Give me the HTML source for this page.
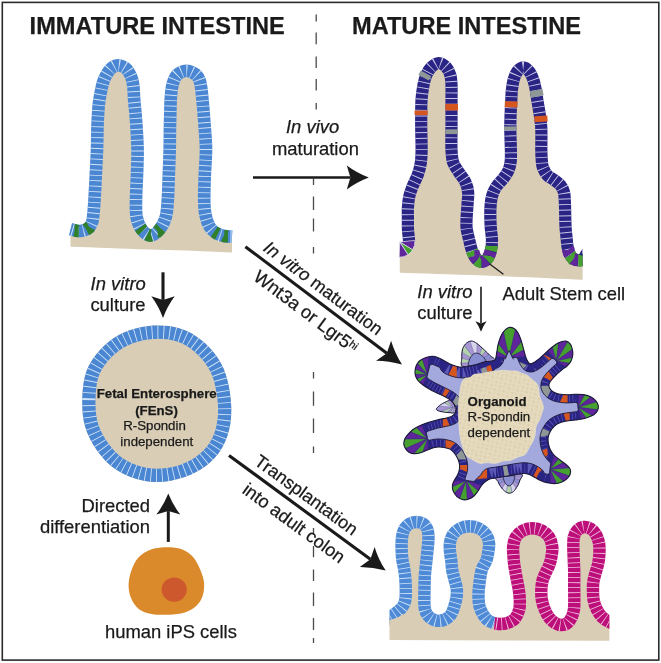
<!DOCTYPE html>
<html lang="en">
<head>
<meta charset="utf-8">
<title>Graphical abstract: immature and mature intestine</title>
<style>
html,body{margin:0;padding:0;background:#fff;}
body{width:661px;height:663px;overflow:hidden;}
svg{display:block;will-change:transform;}
text{font-family:"Liberation Sans",Arial,Helvetica,sans-serif;fill:#1a1a1a;stroke:#1a1a1a;stroke-width:0.25px;}
.t{font-size:23.6px;font-weight:bold;}
.l{font-size:18.4px;}
.s{font-size:13.25px;}
.i{font-style:italic;}
.b{font-weight:bold;}
</style>
</head>
<body>
<svg width="661" height="663" viewBox="0 0 661 663">
<rect x="0" y="0" width="661" height="663" fill="#ffffff"/>
<rect x="2.3" y="2.4" width="656.5" height="657.7" fill="none" stroke="#2b2b2b" stroke-width="1.6"/>
<path d="M316.2,14.5V21.4M316.2,32.6V44.3M316.2,56.5V67.9M316.2,79.1V90.5M316.2,103V109.6M313.5,178.5V185M313.5,196.6V209.9M313.5,218.4V231.6M313.5,247V253.5M313.5,372V378.6M313.5,391.4V405.7M313.5,418.5V433M313.5,446.5V453M313.5,528V535M313.5,546V557.3M313.5,569.4V581M313.5,592.5V606M313.5,618V630M313.5,638V643" stroke="#4a4a4a" stroke-width="1.3" fill="none"/>
<text class="t" x="29.6" y="34.2">IMMATURE INTESTINE</text>
<text class="t" x="352" y="34.2">MATURE INTESTINE</text>
<path d="M70.5,229.2C71.7,229.5 75.5,230.8 77.9,231C80.3,231.2 82.8,230.9 84.7,230.2C86.6,229.5 88.2,228.5 89.5,227C90.8,225.5 91.8,223.6 92.4,221.4C93.1,219.2 93.1,216.4 93.4,214C93.7,211.6 93.8,209.3 94,207C94.2,204.7 94.2,205.3 94.5,200C94.8,194.7 95.4,183.3 95.8,175C96.2,166.7 96.7,158.2 97,150C97.3,141.8 97.3,132.2 97.5,125.6C97.7,119 98,114.8 98.3,110.5C98.6,106.2 98.8,103.8 99.4,100C100,96.2 101,91.1 101.7,87.8C102.4,84.5 103,82.4 103.8,80.3C104.6,78.2 105.3,76.8 106.3,75C107.3,73.2 108.7,70.9 110,69.5C111.3,68.1 112.7,67.1 114,66.4C115.3,65.7 116.6,65.3 118,65.3C119.4,65.3 121,65.7 122.5,66.4C124,67.1 125.7,68.1 127,69.5C128.3,70.9 129.5,73.2 130.4,75C131.3,76.8 131.8,78.2 132.3,80.3C132.8,82.4 133.2,84.5 133.5,87.8C133.8,91.1 133.9,96.2 134.2,100C134.5,103.8 134.8,106.2 135.2,110.5C135.6,114.8 136,119 136.4,125.6C136.8,132.2 137.5,141.8 137.6,150C137.7,158.2 137.3,166.7 137,175C136.7,183.3 136.1,193 136,200C135.9,207 135.7,212.1 136.6,217C137.5,221.9 139.4,226.4 141.7,229.5C144,232.6 147.5,235.5 150.5,235.5C153.5,235.5 156.9,232.6 159.5,229.5C162.1,226.4 164.4,221.9 165.8,217C167.2,212.1 167.3,207 167.8,200C168.3,193 168.5,183.3 168.8,175C169.1,166.7 169.5,158.2 169.7,150C169.9,141.8 169.8,133.9 170,125.6C170.2,117.3 170.4,106.3 170.7,100C171,93.7 171.4,91.1 171.9,87.8C172.4,84.5 173.1,82.3 173.9,80.3C174.7,78.2 175.3,76.8 176.5,75.5C177.7,74.2 179.3,73 181,72.2C182.7,71.4 184.7,70.8 186.5,70.8C188.3,70.8 190.3,71.4 192,72.2C193.7,73 195.5,74.2 196.8,75.5C198.1,76.8 198.9,78.2 199.6,80.3C200.3,82.3 200.7,84.5 201.2,87.8C201.7,91.1 201.9,93.7 202.5,100C203.1,106.3 204,117.3 204.6,125.6C205.2,133.9 206,141.8 206,150C206,158.2 205.1,166.7 204.8,175C204.5,183.3 204.1,193.3 204.2,200C204.3,206.7 204.6,210.6 205.5,215C206.4,219.4 207.8,223.5 209.5,226.5C211.2,229.5 213.6,231.4 216,233C218.4,234.6 221.3,235.4 224,236C226.7,236.6 230.7,236.4 232,236.5L232,252.4 C200,251 170,250 150,249.5 C120,248.6 95,247.3 70.5,246.7Z" fill="#d9cdb6"/>
<path d="M70.5,229.2C71.7,229.5 75.5,230.8 77.9,231C80.3,231.2 82.8,230.9 84.7,230.2C86.6,229.5 88.2,228.5 89.5,227C90.8,225.5 91.8,223.6 92.4,221.4C93.1,219.2 93.1,216.4 93.4,214C93.7,211.6 93.8,209.3 94,207C94.2,204.7 94.2,205.3 94.5,200C94.8,194.7 95.4,183.3 95.8,175C96.2,166.7 96.7,158.2 97,150C97.3,141.8 97.3,132.2 97.5,125.6C97.7,119 98,114.8 98.3,110.5C98.6,106.2 98.8,103.8 99.4,100C100,96.2 101,91.1 101.7,87.8C102.4,84.5 103,82.4 103.8,80.3C104.6,78.2 105.3,76.8 106.3,75C107.3,73.2 108.7,70.9 110,69.5C111.3,68.1 112.7,67.1 114,66.4C115.3,65.7 116.6,65.3 118,65.3C119.4,65.3 121,65.7 122.5,66.4C124,67.1 125.7,68.1 127,69.5C128.3,70.9 129.5,73.2 130.4,75C131.3,76.8 131.8,78.2 132.3,80.3C132.8,82.4 133.2,84.5 133.5,87.8C133.8,91.1 133.9,96.2 134.2,100C134.5,103.8 134.8,106.2 135.2,110.5C135.6,114.8 136,119 136.4,125.6C136.8,132.2 137.5,141.8 137.6,150C137.7,158.2 137.3,166.7 137,175C136.7,183.3 136.1,193 136,200C135.9,207 135.7,212.1 136.6,217C137.5,221.9 139.4,226.4 141.7,229.5C144,232.6 147.5,235.5 150.5,235.5C153.5,235.5 156.9,232.6 159.5,229.5C162.1,226.4 164.4,221.9 165.8,217C167.2,212.1 167.3,207 167.8,200C168.3,193 168.5,183.3 168.8,175C169.1,166.7 169.5,158.2 169.7,150C169.9,141.8 169.8,133.9 170,125.6C170.2,117.3 170.4,106.3 170.7,100C171,93.7 171.4,91.1 171.9,87.8C172.4,84.5 173.1,82.3 173.9,80.3C174.7,78.2 175.3,76.8 176.5,75.5C177.7,74.2 179.3,73 181,72.2C182.7,71.4 184.7,70.8 186.5,70.8C188.3,70.8 190.3,71.4 192,72.2C193.7,73 195.5,74.2 196.8,75.5C198.1,76.8 198.9,78.2 199.6,80.3C200.3,82.3 200.7,84.5 201.2,87.8C201.7,91.1 201.9,93.7 202.5,100C203.1,106.3 204,117.3 204.6,125.6C205.2,133.9 206,141.8 206,150C206,158.2 205.1,166.7 204.8,175C204.5,183.3 204.1,193.3 204.2,200C204.3,206.7 204.6,210.6 205.5,215C206.4,219.4 207.8,223.5 209.5,226.5C211.2,229.5 213.6,231.4 216,233C218.4,234.6 221.3,235.4 224,236C226.7,236.6 230.7,236.4 232,236.5" fill="none" stroke="#4a86d2" stroke-width="12.6"/>
<path d="M70.5,229.2C71.7,229.5 75.5,230.8 77.9,231C80.3,231.2 82.8,230.9 84.7,230.2C86.6,229.5 88.2,228.5 89.5,227C90.8,225.5 91.8,223.6 92.4,221.4C93.1,219.2 93.1,216.4 93.4,214C93.7,211.6 93.8,209.3 94,207C94.2,204.7 94.2,205.3 94.5,200C94.8,194.7 95.4,183.3 95.8,175C96.2,166.7 96.7,158.2 97,150C97.3,141.8 97.3,132.2 97.5,125.6C97.7,119 98,114.8 98.3,110.5C98.6,106.2 98.8,103.8 99.4,100C100,96.2 101,91.1 101.7,87.8C102.4,84.5 103,82.4 103.8,80.3C104.6,78.2 105.3,76.8 106.3,75C107.3,73.2 108.7,70.9 110,69.5C111.3,68.1 112.7,67.1 114,66.4C115.3,65.7 116.6,65.3 118,65.3C119.4,65.3 121,65.7 122.5,66.4C124,67.1 125.7,68.1 127,69.5C128.3,70.9 129.5,73.2 130.4,75C131.3,76.8 131.8,78.2 132.3,80.3C132.8,82.4 133.2,84.5 133.5,87.8C133.8,91.1 133.9,96.2 134.2,100C134.5,103.8 134.8,106.2 135.2,110.5C135.6,114.8 136,119 136.4,125.6C136.8,132.2 137.5,141.8 137.6,150C137.7,158.2 137.3,166.7 137,175C136.7,183.3 136.1,193 136,200C135.9,207 135.7,212.1 136.6,217C137.5,221.9 139.4,226.4 141.7,229.5C144,232.6 147.5,235.5 150.5,235.5C153.5,235.5 156.9,232.6 159.5,229.5C162.1,226.4 164.4,221.9 165.8,217C167.2,212.1 167.3,207 167.8,200C168.3,193 168.5,183.3 168.8,175C169.1,166.7 169.5,158.2 169.7,150C169.9,141.8 169.8,133.9 170,125.6C170.2,117.3 170.4,106.3 170.7,100C171,93.7 171.4,91.1 171.9,87.8C172.4,84.5 173.1,82.3 173.9,80.3C174.7,78.2 175.3,76.8 176.5,75.5C177.7,74.2 179.3,73 181,72.2C182.7,71.4 184.7,70.8 186.5,70.8C188.3,70.8 190.3,71.4 192,72.2C193.7,73 195.5,74.2 196.8,75.5C198.1,76.8 198.9,78.2 199.6,80.3C200.3,82.3 200.7,84.5 201.2,87.8C201.7,91.1 201.9,93.7 202.5,100C203.1,106.3 204,117.3 204.6,125.6C205.2,133.9 206,141.8 206,150C206,158.2 205.1,166.7 204.8,175C204.5,183.3 204.1,193.3 204.2,200C204.3,206.7 204.6,210.6 205.5,215C206.4,219.4 207.8,223.5 209.5,226.5C211.2,229.5 213.6,231.4 216,233C218.4,234.6 221.3,235.4 224,236C226.7,236.6 230.7,236.4 232,236.5" fill="none" stroke="#cfe4f9" stroke-width="12.6" stroke-dasharray="0.9 4.5" stroke-dashoffset="-2"/>
<path d="M74.6,230.4L74.8,230.4L75.2,230.5L75.6,230.6L75.9,230.7L76.3,230.8L76.6,230.8L77,230.9L77.3,230.9L77.6,231L77.9,231L78.2,231L78.5,231L78.7,231" fill="none" stroke="#2f8029" stroke-width="12.4"/>
<path d="M86.3,229.5L86.3,229.5L86.5,229.4L86.7,229.3L86.9,229.2L87.1,229L87.3,228.9L87.5,228.8L87.7,228.6L87.9,228.5L88.1,228.3L88.3,228.2L88.5,228L88.7,227.9L88.8,227.7L89,227.5L89.2,227.4L89.3,227.2L89.5,227L89.5,227" fill="none" stroke="#2f8029" stroke-width="12.4"/>
<path d="M140.3,227.4L140.3,227.4L140.6,227.8L140.9,228.3L141.1,228.7L141.4,229.1L141.7,229.5L142,229.9L142.3,230.3L142.6,230.6L142.8,230.8" fill="none" stroke="#2f8029" stroke-width="12.4"/>
<path d="M147.2,234.5L147.4,234.6L147.8,234.8L148.2,235L148.6,235.1L149,235.3L149.4,235.4L149.7,235.4L150.1,235.5L150.5,235.5L150.9,235.5L151.2,235.4" fill="none" stroke="#2f8029" stroke-width="12.4"/>
<path d="M157.7,231.4L157.8,231.4L158.2,231L158.5,230.6L158.8,230.3L159.2,229.9L159.5,229.5L159.8,229.1L160.1,228.7L160.4,228.3L160.5,228.2" fill="none" stroke="#2f8029" stroke-width="12.4"/>
<path d="M214.2,231.8L214.5,232L214.8,232.2L215.1,232.4L215.4,232.6L215.7,232.8L216,233L216.3,233.2L216.6,233.4L216.9,233.6L217.2,233.7L217.6,233.9L217.8,234" fill="none" stroke="#2f8029" stroke-width="12.4"/>
<path d="M223.8,235.9L224,236L224.3,236.1L224.7,236.1L225.1,236.2L225.4,236.2L225.8,236.3L226.2,236.3L226.6,236.3L227,236.4L227.4,236.4L227.7,236.4L227.9,236.4" fill="none" stroke="#2f8029" stroke-width="12.4"/>
<path d="M253,177.5L350.4,177.5" stroke="#1a1a1a" stroke-width="2.6" fill="none"/>
<path d="M368.8,177.5Q356.7,182.1 346.8,189.5L350.4,177.5L346.8,165.5Q356.7,172.9 368.8,177.5Z" fill="#1a1a1a"/>
<path d="M163,272.3L163,299.9" stroke="#1a1a1a" stroke-width="3.1" fill="none"/>
<path d="M163,318Q158.6,306.1 151.3,296.3L163,299.9L174.7,296.3Q167.4,306.1 163,318Z" fill="#1a1a1a"/>
<path d="M168.3,541.9L168.3,511.1" stroke="#1a1a1a" stroke-width="3" fill="none"/>
<path d="M168.3,493.6Q172.9,505.2 180.3,514.6L168.3,511.1L156.3,514.6Q163.7,505.2 168.3,493.6Z" fill="#1a1a1a"/>
<path d="M245.4,246.7L386.8,353.2" stroke="#1a1a1a" stroke-width="3.1" fill="none"/>
<path d="M402,364.6Q389,360.8 376.1,360.8L386.8,353.2L391.1,340.8Q394.8,353.2 402,364.6Z" fill="#1a1a1a"/>
<path d="M229,455.4L370.4,559.3" stroke="#1a1a1a" stroke-width="3.1" fill="none"/>
<path d="M385.7,570.6Q372.7,566.9 359.8,567L370.4,559.3L374.6,546.9Q378.3,559.3 385.7,570.6Z" fill="#1a1a1a"/>
<path d="M481,286.7L481,323.4" stroke="#1a1a1a" stroke-width="1.6" fill="none"/>
<path d="M481,331.7Q478.9,325.9 475.4,321.2L481,323.4L486.6,321.2Q483.1,325.9 481,331.7Z" fill="#1a1a1a"/>
<text class="l i" x="286" y="133">In vivo</text>
<text class="l" x="272" y="154.5">maturation</text>
<text class="l i" x="145.8" y="290" text-anchor="end">In vitro</text>
<text class="l" x="145.6" y="311.3" text-anchor="end">culture</text>
<text class="l" x="150" y="511.6" text-anchor="end">Directed</text>
<text class="l" x="150" y="533.3" text-anchor="end">differentiation</text>
<text class="l" x="105" y="638.3">human iPS cells</text>
<text class="l i" x="417.3" y="298.3">In vitro</text>
<text class="l" x="417.3" y="319">culture</text>
<text class="l" x="502.5" y="299.6">Adult Stem cell</text>
<g transform="translate(245.4,246.7) rotate(36.9)"><text class="l" x="15.6" y="-7.5" style="font-size:17.9px"><tspan class="i">In vitro</tspan> maturation</text><text class="l" x="25" y="21.8">Wnt3a or Lgr5<tspan font-size="10.5" dy="-4.6">hi</tspan></text></g>
<g transform="translate(229,455.2) rotate(36.15)"><text class="l" x="24.6" y="-7.5" style="font-size:17.9px">Transplantation</text><text class="l" x="31.6" y="22.7" style="font-size:18.1px">into adult colon</text></g>
<clipPath id="fc"><path d="M82.3,399C82.5,389.9 83.3,379.9 86.3,371.7C89.2,363.5 94.1,356.4 100,350C105.9,343.6 113.5,337.6 121.7,333.6C129.9,329.6 139.4,326.9 149,326C158.6,325.1 169.9,325.6 179,328.2C188.1,330.8 196.2,335.4 203.4,341.8C210.7,348.2 217.9,356.8 222.5,366.3C227.1,375.8 229.6,388.6 230.7,399C231.8,409.4 231.4,419.9 229.3,429C227.2,438.1 223.6,446.4 218.4,453.4C213.2,460.4 205.9,466.6 198,471.1C190.1,475.7 179.9,479.1 170.8,480.7C161.7,482.3 152.6,482.5 143.5,480.7C134.4,478.9 124,474.8 116.3,469.8C108.6,464.8 102.4,458 97.2,450.7C92,443.4 87.5,434.8 85,426.2C82.5,417.6 82.1,408.1 82.3,399Z"/></clipPath>
<path d="M82.3,399C82.5,389.9 83.3,379.9 86.3,371.7C89.2,363.5 94.1,356.4 100,350C105.9,343.6 113.5,337.6 121.7,333.6C129.9,329.6 139.4,326.9 149,326C158.6,325.1 169.9,325.6 179,328.2C188.1,330.8 196.2,335.4 203.4,341.8C210.7,348.2 217.9,356.8 222.5,366.3C227.1,375.8 229.6,388.6 230.7,399C231.8,409.4 231.4,419.9 229.3,429C227.2,438.1 223.6,446.4 218.4,453.4C213.2,460.4 205.9,466.6 198,471.1C190.1,475.7 179.9,479.1 170.8,480.7C161.7,482.3 152.6,482.5 143.5,480.7C134.4,478.9 124,474.8 116.3,469.8C108.6,464.8 102.4,458 97.2,450.7C92,443.4 87.5,434.8 85,426.2C82.5,417.6 82.1,408.1 82.3,399Z" fill="#d9cdb6"/>
<g clip-path="url(#fc)"><path d="M82.3,399C82.5,389.9 83.3,379.9 86.3,371.7C89.2,363.5 94.1,356.4 100,350C105.9,343.6 113.5,337.6 121.7,333.6C129.9,329.6 139.4,326.9 149,326C158.6,325.1 169.9,325.6 179,328.2C188.1,330.8 196.2,335.4 203.4,341.8C210.7,348.2 217.9,356.8 222.5,366.3C227.1,375.8 229.6,388.6 230.7,399C231.8,409.4 231.4,419.9 229.3,429C227.2,438.1 223.6,446.4 218.4,453.4C213.2,460.4 205.9,466.6 198,471.1C190.1,475.7 179.9,479.1 170.8,480.7C161.7,482.3 152.6,482.5 143.5,480.7C134.4,478.9 124,474.8 116.3,469.8C108.6,464.8 102.4,458 97.2,450.7C92,443.4 87.5,434.8 85,426.2C82.5,417.6 82.1,408.1 82.3,399Z" fill="none" stroke="#4a86d2" stroke-width="26.4"/>
<path d="M82.3,399C82.5,389.9 83.3,379.9 86.3,371.7C89.2,363.5 94.1,356.4 100,350C105.9,343.6 113.5,337.6 121.7,333.6C129.9,329.6 139.4,326.9 149,326C158.6,325.1 169.9,325.6 179,328.2C188.1,330.8 196.2,335.4 203.4,341.8C210.7,348.2 217.9,356.8 222.5,366.3C227.1,375.8 229.6,388.6 230.7,399C231.8,409.4 231.4,419.9 229.3,429C227.2,438.1 223.6,446.4 218.4,453.4C213.2,460.4 205.9,466.6 198,471.1C190.1,475.7 179.9,479.1 170.8,480.7C161.7,482.3 152.6,482.5 143.5,480.7C134.4,478.9 124,474.8 116.3,469.8C108.6,464.8 102.4,458 97.2,450.7C92,443.4 87.5,434.8 85,426.2C82.5,417.6 82.1,408.1 82.3,399Z" fill="none" stroke="#cfe4f9" stroke-width="26.4" stroke-dasharray="0.9 5.3"/></g>
<text class="s b" x="156.7" y="398.4" text-anchor="middle">Fetal Enterosphere</text>
<text class="s b" x="156.5" y="414.6" text-anchor="middle">(FEnS)</text>
<text class="s" x="154.5" y="430" text-anchor="middle">R-Spondin</text>
<text class="s" x="156.8" y="445.8" text-anchor="middle">independent</text>
<path d="M167.4,547.2C172.4,547.2 177.5,547.6 181.8,549.3C186.1,551 190.2,553.7 193.3,557.2C196.4,560.7 198.7,565.9 200.5,570.2C202.3,574.5 203.8,578.8 204.1,583.1C204.4,587.4 203.9,592.2 202.6,596C201.3,599.8 199.2,603.3 196.2,606.1C193.2,608.9 189.2,611.2 184.7,612.6C180.1,614 174.4,614.5 168.9,614.7C163.4,614.9 156.6,615 151.6,614C146.6,613 142.2,611.8 138.7,609C135.2,606.2 132.5,601.6 130.8,597.5C129.1,593.4 128.5,589.1 128.6,584.6C128.7,580.1 129.8,574.8 131.5,570.2C133.2,565.6 135.3,560.7 138.7,557.2C142,553.7 146.8,551 151.6,549.3C156.4,547.6 162.4,547.2 167.4,547.2Z" fill="#da8a2b"/>
<ellipse cx="174.2" cy="589.6" rx="12.6" ry="12.1" fill="#ce582e"/>
<clipPath id="mc"><rect x="390" y="40" width="192.6" height="250"/></clipPath>
<g clip-path="url(#mc)">
<path d="M399.8,250 L408.6,245 L408.6,245C408.7,244.2 409.1,242.5 409,240C408.9,237.5 408.2,233.3 408,230C407.8,226.7 407.9,223.7 407.9,220C407.9,216.3 407.7,211.8 407.9,207.9C408.1,204 408.5,199.9 409.3,196.3C410.1,192.7 411.3,189.7 412.7,186.1C414.1,182.5 416.5,178.5 417.9,174.5C419.3,170.5 420.3,166.4 420.9,162.3C421.5,158.2 421.6,156.2 421.6,150C421.7,143.8 421.2,133.3 421.2,125C421.2,116.7 421.1,106.7 421.5,100C421.9,93.3 422.7,89.2 423.5,85C424.3,80.8 425.1,77.9 426.3,75C427.6,72.1 428.9,69.5 431,67.5C433.1,65.5 436.1,63 438.6,63C441.2,63 444.4,65.3 446.3,67.3C448.2,69.3 449.4,72 450.3,75C451.2,78 451.3,80.8 451.5,85C451.7,89.2 451.5,93.3 451.5,100C451.5,106.7 451.5,116.7 451.5,125C451.5,133.3 451.2,143.8 451.5,150C451.8,156.2 451.9,158.6 453.1,162.3C454.4,166.1 456.9,169.2 459,172.5C461.1,175.8 463.9,178.7 465.4,182C466.9,185.3 467.8,188.4 468.1,192.2C468.5,195.9 467.8,200.2 467.5,204.5C467.2,208.8 466.8,214.1 466.6,218C466.5,221.9 466.2,224.3 466.6,228C467,231.7 468.2,236 469.2,240C470.2,244 471.2,248.8 472.5,252C473.8,255.2 475.4,257.9 477,259.5C478.6,261.1 480.2,261.9 482,261.7C483.8,261.5 486,260.4 487.5,258.5C489,256.6 490.2,253.1 491,250C491.8,246.9 492,243.7 492,240C492,236.3 491.1,232.2 490.8,228C490.5,223.8 490.3,218.8 490.3,215C490.3,211.2 490.3,208.6 490.6,205.4C490.9,202.2 491.2,199 492.1,195.9C493,192.8 494.2,189.9 496.1,187C498,184.1 501.2,181.3 503.3,178.5C505.4,175.7 507.4,172.9 508.6,170.1C509.8,167.3 510.3,164.9 510.7,161.6C511.1,158.2 511,156.1 510.9,150C510.8,143.9 510.2,133.3 510.3,125C510.4,116.7 511,105.8 511.3,100C511.6,94.2 511.5,93.3 511.9,90C512.3,86.7 512.7,83.1 513.6,80C514.5,76.9 515.6,73.6 517.2,71.5C518.8,69.4 521.2,67.3 523.2,67.3C525.2,67.3 527.6,69.4 529.3,71.5C531,73.6 532.3,76.9 533.4,80C534.5,83.1 535.1,86.7 535.8,90C536.4,93.3 536.4,94.2 537.3,100C538.2,105.8 540.4,116.7 541.1,125C541.8,133.3 541.2,144.1 541.3,150C541.4,155.9 541.5,157.7 541.8,160.6C542.1,163.5 542,164.9 542.9,167.4C543.8,169.9 545.5,173.2 547.4,175.3C549.3,177.4 552.1,178.4 554.3,180.1C556.5,181.8 559,183.4 560.6,185.4C562.2,187.4 563.3,189.3 564,192.2C564.7,195.1 564.7,199 564.9,202.8C565.1,206.6 565.1,210.8 565.2,215C565.3,219.2 565.3,223.8 565.6,228C565.9,232.2 566.5,236.8 566.8,240C567.1,243.2 567.1,244.7 567.6,247C568.1,249.3 568.6,252 569.6,254C570.6,256 572,257.8 573.5,258.8C575,259.9 576.8,260.1 578.5,260.3C580.2,260.5 583.1,259.9 584,259.8 L590,262 L590,280 L582.6,279.8 C560,278.6 520,276.8 485,275.6 C450,274.4 420,273.4 399.8,272.8Z" fill="#d9cdb6"/>
<path d="M408.6,245C408.7,244.2 409.1,242.5 409,240C408.9,237.5 408.2,233.3 408,230C407.8,226.7 407.9,223.7 407.9,220C407.9,216.3 407.7,211.8 407.9,207.9C408.1,204 408.5,199.9 409.3,196.3C410.1,192.7 411.3,189.7 412.7,186.1C414.1,182.5 416.5,178.5 417.9,174.5C419.3,170.5 420.3,166.4 420.9,162.3C421.5,158.2 421.6,156.2 421.6,150C421.7,143.8 421.2,133.3 421.2,125C421.2,116.7 421.1,106.7 421.5,100C421.9,93.3 422.7,89.2 423.5,85C424.3,80.8 425.1,77.9 426.3,75C427.6,72.1 428.9,69.5 431,67.5C433.1,65.5 436.1,63 438.6,63C441.2,63 444.4,65.3 446.3,67.3C448.2,69.3 449.4,72 450.3,75C451.2,78 451.3,80.8 451.5,85C451.7,89.2 451.5,93.3 451.5,100C451.5,106.7 451.5,116.7 451.5,125C451.5,133.3 451.2,143.8 451.5,150C451.8,156.2 451.9,158.6 453.1,162.3C454.4,166.1 456.9,169.2 459,172.5C461.1,175.8 463.9,178.7 465.4,182C466.9,185.3 467.8,188.4 468.1,192.2C468.5,195.9 467.8,200.2 467.5,204.5C467.2,208.8 466.8,214.1 466.6,218C466.5,221.9 466.2,224.3 466.6,228C467,231.7 468.2,236 469.2,240C470.2,244 471.2,248.8 472.5,252C473.8,255.2 475.4,257.9 477,259.5C478.6,261.1 480.2,261.9 482,261.7C483.8,261.5 486,260.4 487.5,258.5C489,256.6 490.2,253.1 491,250C491.8,246.9 492,243.7 492,240C492,236.3 491.1,232.2 490.8,228C490.5,223.8 490.3,218.8 490.3,215C490.3,211.2 490.3,208.6 490.6,205.4C490.9,202.2 491.2,199 492.1,195.9C493,192.8 494.2,189.9 496.1,187C498,184.1 501.2,181.3 503.3,178.5C505.4,175.7 507.4,172.9 508.6,170.1C509.8,167.3 510.3,164.9 510.7,161.6C511.1,158.2 511,156.1 510.9,150C510.8,143.9 510.2,133.3 510.3,125C510.4,116.7 511,105.8 511.3,100C511.6,94.2 511.5,93.3 511.9,90C512.3,86.7 512.7,83.1 513.6,80C514.5,76.9 515.6,73.6 517.2,71.5C518.8,69.4 521.2,67.3 523.2,67.3C525.2,67.3 527.6,69.4 529.3,71.5C531,73.6 532.3,76.9 533.4,80C534.5,83.1 535.1,86.7 535.8,90C536.4,93.3 536.4,94.2 537.3,100C538.2,105.8 540.4,116.7 541.1,125C541.8,133.3 541.2,144.1 541.3,150C541.4,155.9 541.5,157.7 541.8,160.6C542.1,163.5 542,164.9 542.9,167.4C543.8,169.9 545.5,173.2 547.4,175.3C549.3,177.4 552.1,178.4 554.3,180.1C556.5,181.8 559,183.4 560.6,185.4C562.2,187.4 563.3,189.3 564,192.2C564.7,195.1 564.7,199 564.9,202.8C565.1,206.6 565.1,210.8 565.2,215C565.3,219.2 565.3,223.8 565.6,228C565.9,232.2 566.5,236.8 566.8,240C567.1,243.2 567.1,244.7 567.6,247C568.1,249.3 568.6,252 569.6,254C570.6,256 572,257.8 573.5,258.8C575,259.9 576.8,260.1 578.5,260.3C580.2,260.5 583.1,259.9 584,259.8" fill="none" stroke="#2a2584" stroke-width="12.2"/>
<path d="M408.6,245C408.7,244.2 409.1,242.5 409,240C408.9,237.5 408.2,233.3 408,230C407.8,226.7 407.9,223.7 407.9,220C407.9,216.3 407.7,211.8 407.9,207.9C408.1,204 408.5,199.9 409.3,196.3C410.1,192.7 411.3,189.7 412.7,186.1C414.1,182.5 416.5,178.5 417.9,174.5C419.3,170.5 420.3,166.4 420.9,162.3C421.5,158.2 421.6,156.2 421.6,150C421.7,143.8 421.2,133.3 421.2,125C421.2,116.7 421.1,106.7 421.5,100C421.9,93.3 422.7,89.2 423.5,85C424.3,80.8 425.1,77.9 426.3,75C427.6,72.1 428.9,69.5 431,67.5C433.1,65.5 436.1,63 438.6,63C441.2,63 444.4,65.3 446.3,67.3C448.2,69.3 449.4,72 450.3,75C451.2,78 451.3,80.8 451.5,85C451.7,89.2 451.5,93.3 451.5,100C451.5,106.7 451.5,116.7 451.5,125C451.5,133.3 451.2,143.8 451.5,150C451.8,156.2 451.9,158.6 453.1,162.3C454.4,166.1 456.9,169.2 459,172.5C461.1,175.8 463.9,178.7 465.4,182C466.9,185.3 467.8,188.4 468.1,192.2C468.5,195.9 467.8,200.2 467.5,204.5C467.2,208.8 466.8,214.1 466.6,218C466.5,221.9 466.2,224.3 466.6,228C467,231.7 468.2,236 469.2,240C470.2,244 471.2,248.8 472.5,252C473.8,255.2 475.4,257.9 477,259.5C478.6,261.1 480.2,261.9 482,261.7C483.8,261.5 486,260.4 487.5,258.5C489,256.6 490.2,253.1 491,250C491.8,246.9 492,243.7 492,240C492,236.3 491.1,232.2 490.8,228C490.5,223.8 490.3,218.8 490.3,215C490.3,211.2 490.3,208.6 490.6,205.4C490.9,202.2 491.2,199 492.1,195.9C493,192.8 494.2,189.9 496.1,187C498,184.1 501.2,181.3 503.3,178.5C505.4,175.7 507.4,172.9 508.6,170.1C509.8,167.3 510.3,164.9 510.7,161.6C511.1,158.2 511,156.1 510.9,150C510.8,143.9 510.2,133.3 510.3,125C510.4,116.7 511,105.8 511.3,100C511.6,94.2 511.5,93.3 511.9,90C512.3,86.7 512.7,83.1 513.6,80C514.5,76.9 515.6,73.6 517.2,71.5C518.8,69.4 521.2,67.3 523.2,67.3C525.2,67.3 527.6,69.4 529.3,71.5C531,73.6 532.3,76.9 533.4,80C534.5,83.1 535.1,86.7 535.8,90C536.4,93.3 536.4,94.2 537.3,100C538.2,105.8 540.4,116.7 541.1,125C541.8,133.3 541.2,144.1 541.3,150C541.4,155.9 541.5,157.7 541.8,160.6C542.1,163.5 542,164.9 542.9,167.4C543.8,169.9 545.5,173.2 547.4,175.3C549.3,177.4 552.1,178.4 554.3,180.1C556.5,181.8 559,183.4 560.6,185.4C562.2,187.4 563.3,189.3 564,192.2C564.7,195.1 564.7,199 564.9,202.8C565.1,206.6 565.1,210.8 565.2,215C565.3,219.2 565.3,223.8 565.6,228C565.9,232.2 566.5,236.8 566.8,240C567.1,243.2 567.1,244.7 567.6,247C568.1,249.3 568.6,252 569.6,254C570.6,256 572,257.8 573.5,258.8C575,259.9 576.8,260.1 578.5,260.3C580.2,260.5 583.1,259.9 584,259.8" fill="none" stroke="#c9c8ea" stroke-width="12.2" stroke-dasharray="0.9 4.7" stroke-dashoffset="-2"/>
<path d="M568.2,249.9L568.3,250L568.3,250.3L568.4,250.6L568.5,250.9L568.6,251.2L568.7,251.5L568.7,251.8L568.8,252.1L568.9,252.4L569,252.7L569.1,253L569.3,253.2L569.4,253.5L569.5,253.8L569.6,254L569.7,254.2L569.9,254.5L569.9,254.5" fill="none" stroke="#5f259b" stroke-width="12.2"/>
<path d="M570.2,255.1L570.3,255.2L570.4,255.4L570.6,255.7L570.7,255.9L570.9,256.1L571,256.3L571.2,256.5L571.4,256.7L571.5,256.9L571.7,257.1L571.9,257.3L572,257.5L572.2,257.7L572.4,257.9L572.6,258.1L572.8,258.2L572.9,258.4L573,258.4" fill="none" stroke="#45a02f" stroke-width="12.2"/>
<path d="M573.5,258.8L573.5,258.8L573.7,258.9L573.9,259L574.1,259.2L574.3,259.3L574.5,259.4L574.7,259.5L574.9,259.5L575.1,259.6L575.3,259.7L575.5,259.8L575.7,259.8L575.9,259.9L576.1,259.9L576.3,260L576.5,260L576.8,260.1L577,260.1L577.2,260.1L577.4,260.2L577.6,260.2" fill="none" stroke="#5f259b" stroke-width="12.2"/>
<path d="M578.2,260.3L578.3,260.3L578.5,260.3L578.7,260.3L579,260.3L579.2,260.3L579.5,260.3L579.7,260.3L580,260.3L580.2,260.3L580.5,260.3L580.8,260.2L581,260.2L581.3,260.2L581.6,260.1L581.8,260.1L582.1,260.1L582.3,260L582.6,260L582.8,260L583,259.9L583.2,259.9L583.4,259.9L583.5,259.9" fill="none" stroke="#45a02f" stroke-width="12.2"/>
<path d="M579,254.5L582.6,248.5L582.6,256Z" fill="#2a2584"/>
</g>
<path d="M414.6,112.8L427.6,112.8" stroke="#d5561f" stroke-width="4.6" fill="none"/>
<path d="M445.4,107.2L458,107.2" stroke="#d5561f" stroke-width="6.6" fill="none"/>
<path d="M445.4,131.7L458,131.7" stroke="#8f9897" stroke-width="4.8" fill="none"/>
<path d="M419.6,72.8L430,78.4" stroke="#8f9897" stroke-width="5" fill="none"/>
<path d="M504.8,104.2L517.5,104.6" stroke="#d5561f" stroke-width="6" fill="none"/>
<path d="M530.5,94.5L543,92" stroke="#8f9897" stroke-width="6.6" fill="none"/>
<path d="M534.5,119.2L547.5,118.4" stroke="#d5561f" stroke-width="6" fill="none"/>
<path d="M504,128.4L516.6,128.4" stroke="#8f9897" stroke-width="4" fill="none"/>
<path d="M399.7,242L414.8,240.4A15.2,15.2 0 0 1 412.7,249.8Z" fill="#5f259b" stroke="#e8e6f4" stroke-width="0.7"/>
<path d="M399.7,242L412.7,249.8A15.2,15.2 0 0 1 408,254.7Z" fill="#45a02f" stroke="#e8e6f4" stroke-width="0.7"/>
<path d="M399.7,242L408,254.7A15.2,15.2 0 0 1 399.2,257.2Z" fill="#5f259b" stroke="#e8e6f4" stroke-width="0.7"/>
<path d="M472.1,251L472.2,251.2L472.3,251.6L472.5,252L472.7,252.4L472.8,252.8L473,253.2L473.2,253.6L473.4,253.9L473.5,254.3L473.7,254.7L473.9,255L474.1,255.4L474.1,255.5" fill="none" stroke="#45a02f" stroke-width="12.2"/>
<path d="M474.4,256L474.5,256L474.6,256.4L474.8,256.7L475,257L475.2,257.3L475.4,257.6L475.6,257.8L475.8,258.1L476,258.4L476.2,258.6L476.4,258.8L476.6,259.1L476.8,259.3L477,259.5L477,259.5" fill="none" stroke="#5f259b" stroke-width="12.2"/>
<path d="M477.5,260L477.6,260.1L477.8,260.2L478,260.4L478.2,260.5L478.4,260.7L478.6,260.8L478.8,261L479,261.1L479.2,261.2L479.4,261.3L479.6,261.4L479.9,261.4L480.1,261.5L480.3,261.6L480.5,261.6L480.7,261.7L480.9,261.7L481.1,261.7L481.3,261.7L481.4,261.7" fill="none" stroke="#45a02f" stroke-width="12.2"/>
<path d="M482,261.7L482.2,261.7L482.4,261.6L482.7,261.6L482.9,261.5L483.1,261.5L483.4,261.4L483.6,261.3L483.9,261.2L484.1,261.1L484.4,261L484.6,260.9L484.8,260.8L485.1,260.6L485.3,260.5L485.6,260.3L485.8,260.2L486,260" fill="none" stroke="#5f259b" stroke-width="12.2"/>
<path d="M486.5,259.6L486.5,259.6L486.7,259.4L486.9,259.2L487.1,259L487.3,258.7L487.5,258.5L487.7,258.2L487.9,258L488.1,257.7L488.2,257.4L488.4,257.1L488.6,256.8L488.7,256.5L488.9,256.1L488.9,256" fill="none" stroke="#45a02f" stroke-width="12.2"/>
<path d="M489.2,255.5L489.2,255.4L489.4,255L489.5,254.7L489.7,254.3L489.8,253.9L490,253.5L490.1,253.1L490.2,252.7L490.3,252.4L490.5,252L490.6,251.6L490.7,251.3" fill="none" stroke="#5f259b" stroke-width="12.2"/>
<path d="M490.8,250.8L490.9,250.4L491,250L491.1,249.6L491.2,249.2L491.3,248.8L491.3,248.4L491.4,248L491.5,247.7L491.5,247.3L491.6,246.9L491.7,246.4L491.7,246L491.7,245.9" fill="none" stroke="#45a02f" stroke-width="12.2"/>
<path d="M489.7,264L503.4,274.2" stroke="#1a1a1a" stroke-width="1.2" fill="none"/>
<clipPath id="cc"><rect x="389.5" y="500" width="219.9" height="150"/></clipPath>
<g clip-path="url(#cc)">
<path d="M384,620.8C385.1,620.1 388.7,617.8 390.6,616.5C392.5,615.2 394.1,614.2 395.6,613.2C397.1,612.2 398.3,611.2 399.4,610.2C400.5,609.2 401.4,608.3 402.3,607.1C403.2,605.9 403.9,604.5 404.5,603C405.1,601.5 405.4,599.8 405.6,598C405.8,596.2 405.8,594.2 405.8,592C405.8,589.8 405.8,587.8 405.7,585C405.6,582.2 405.3,578 405,575C404.7,572 404.2,569.5 403.8,567C403.4,564.5 402.8,562.7 402.4,560C402,557.3 401.8,553.8 401.7,551C401.6,548.2 401.5,546 401.6,543.3C401.7,540.6 401.9,537.5 402.4,535C402.9,532.5 403.5,530.5 404.6,528.6C405.8,526.7 407.4,524.9 409.3,523.8C411.2,522.7 414,522 416.3,522C418.6,522 421.5,522.7 423.3,523.8C425.1,524.9 426.2,526.7 427.1,528.6C428,530.5 428.2,532.5 428.4,535C428.6,537.5 428.4,540.6 428.2,543.3C428,546 427.7,548.2 427.4,551C427.1,553.8 426.9,556 426.5,560C426.1,564 425.2,570.3 424.9,575C424.6,579.7 424.6,582.8 424.5,588C424.4,593.2 424.2,601.9 424.5,606C424.8,610.1 425,610.5 426,612.5C427,614.5 428.6,616.6 430.5,618C432.4,619.4 435.1,620.5 437.5,620.8C439.9,621 442.8,620.5 445,619.5C447.2,618.5 449.4,616.8 451,614.5C452.6,612.2 453.5,608.9 454.4,606C455.3,603.1 456.2,600 456.6,597C457,594 457.1,591 456.7,588C456.3,585 455.1,582 454.4,579C453.6,576 452.7,573.2 452.2,570C451.7,566.8 451.6,563.1 451.2,560C450.8,556.9 450.2,554.4 450,551.6C449.8,548.8 449.5,546.1 449.9,543.3C450.3,540.5 451,537.5 452.6,535C454.2,532.5 456.8,530.1 459.6,528.6C462.4,527.1 466.2,526.2 469.5,526.2C472.8,526.2 476.6,527.1 479.4,528.6C482.2,530.1 484.8,532.5 486.4,535C488,537.5 488.8,540.5 489.1,543.3C489.4,546.1 488.7,548.8 488.3,551.6C487.9,554.4 487.7,556.9 486.6,560C485.5,563.1 483,565.3 481.7,570C480.4,574.7 479.4,583.5 478.9,588C478.4,592.5 478.4,594 478.5,597C478.6,600 478.6,603 479.4,606C480.2,609 481.9,612.5 483.4,615C484.9,617.5 486.6,619.4 488.5,620.8C490.4,622.2 493.5,622.9 494.5,623.3 L494.5,623.3C495.6,623.4 498.8,624.1 501,624C503.2,623.9 505.7,623.7 508,622.8C510.3,621.9 513.1,620.8 515,618.5C516.9,616.2 518.5,612.5 519.3,609.3C520.1,606.1 519.9,602.8 519.8,599.5C519.7,596.2 519.3,593.1 518.8,589.7C518.3,586.3 517.4,582.1 516.8,579C516.2,575.9 515.7,573.4 515.3,571C514.9,568.6 514.5,567.1 514.2,564.5C513.9,561.9 513.6,558.4 513.4,555.4C513.2,552.4 512.8,549.3 513.2,546.3C513.6,543.3 514.1,539.8 515.7,537.2C517.3,534.6 519.8,532.2 522.6,530.7C525.4,529.2 529,528.3 532.3,528.3C535.6,528.3 539.4,529.2 542.2,530.7C545,532.2 547.5,534.6 549.2,537.2C550.9,539.8 551.8,543.3 552.2,546.3C552.6,549.3 552.2,552.4 551.7,555.4C551.2,558.4 550.6,561.4 549.5,564.5C548.4,567.6 546.3,571.2 545.1,574C543.9,576.8 543,578.4 542.4,581C541.8,583.6 541.4,586.6 541.3,589.7C541.2,592.8 541.2,596.2 541.8,599.5C542.3,602.8 543.4,606.3 544.6,609.3C545.8,612.3 547.3,615.2 549,617.5C550.7,619.8 552.9,621.8 555,623C557.1,624.2 559.4,625 561.5,625C563.6,625 565.8,624.3 567.5,623C569.2,621.7 570.7,619.3 571.8,617C572.9,614.7 573.6,612.3 574,609.3C574.4,606.3 574.3,603 574.3,599C574.3,595 574.2,589.8 574.2,585C574.2,580.2 574.3,574.2 574.2,570C574.1,565.8 573.9,564 573.8,560C573.6,556 573.3,550.1 573.3,546.3C573.3,542.5 573.2,539.8 573.8,537.2C574.4,534.6 575.3,532.3 577,530.6C578.7,528.9 581.6,527.2 584,527C586.4,526.8 589.5,528 591.5,529.3C593.5,530.5 594.8,532.5 596,534.5C597.2,536.5 597.9,539 598.5,541C599.1,543 599.3,543.9 599.4,546.3C599.5,548.7 599.5,552.4 599.3,555.4C599.1,558.4 598.7,561.4 598,564.5C597.3,567.6 596,571.1 595.2,574C594.4,576.9 593.7,579.4 593.3,582C592.9,584.6 593,586.8 593,589.7C593,592.6 592.9,596.2 593.5,599.5C594.1,602.8 595.3,606.4 596.7,609.3C598.1,612.2 599.9,614.9 602,617C604.1,619.1 607.1,620.8 609.4,622C611.7,623.2 614.9,624.1 616,624.5 L616,640.8 L383,640Z" fill="#d9cdb6"/>
<path d="M384,620.8C385.1,620.1 388.7,617.8 390.6,616.5C392.5,615.2 394.1,614.2 395.6,613.2C397.1,612.2 398.3,611.2 399.4,610.2C400.5,609.2 401.4,608.3 402.3,607.1C403.2,605.9 403.9,604.5 404.5,603C405.1,601.5 405.4,599.8 405.6,598C405.8,596.2 405.8,594.2 405.8,592C405.8,589.8 405.8,587.8 405.7,585C405.6,582.2 405.3,578 405,575C404.7,572 404.2,569.5 403.8,567C403.4,564.5 402.8,562.7 402.4,560C402,557.3 401.8,553.8 401.7,551C401.6,548.2 401.5,546 401.6,543.3C401.7,540.6 401.9,537.5 402.4,535C402.9,532.5 403.5,530.5 404.6,528.6C405.8,526.7 407.4,524.9 409.3,523.8C411.2,522.7 414,522 416.3,522C418.6,522 421.5,522.7 423.3,523.8C425.1,524.9 426.2,526.7 427.1,528.6C428,530.5 428.2,532.5 428.4,535C428.6,537.5 428.4,540.6 428.2,543.3C428,546 427.7,548.2 427.4,551C427.1,553.8 426.9,556 426.5,560C426.1,564 425.2,570.3 424.9,575C424.6,579.7 424.6,582.8 424.5,588C424.4,593.2 424.2,601.9 424.5,606C424.8,610.1 425,610.5 426,612.5C427,614.5 428.6,616.6 430.5,618C432.4,619.4 435.1,620.5 437.5,620.8C439.9,621 442.8,620.5 445,619.5C447.2,618.5 449.4,616.8 451,614.5C452.6,612.2 453.5,608.9 454.4,606C455.3,603.1 456.2,600 456.6,597C457,594 457.1,591 456.7,588C456.3,585 455.1,582 454.4,579C453.6,576 452.7,573.2 452.2,570C451.7,566.8 451.6,563.1 451.2,560C450.8,556.9 450.2,554.4 450,551.6C449.8,548.8 449.5,546.1 449.9,543.3C450.3,540.5 451,537.5 452.6,535C454.2,532.5 456.8,530.1 459.6,528.6C462.4,527.1 466.2,526.2 469.5,526.2C472.8,526.2 476.6,527.1 479.4,528.6C482.2,530.1 484.8,532.5 486.4,535C488,537.5 488.8,540.5 489.1,543.3C489.4,546.1 488.7,548.8 488.3,551.6C487.9,554.4 487.7,556.9 486.6,560C485.5,563.1 483,565.3 481.7,570C480.4,574.7 479.4,583.5 478.9,588C478.4,592.5 478.4,594 478.5,597C478.6,600 478.6,603 479.4,606C480.2,609 481.9,612.5 483.4,615C484.9,617.5 486.6,619.4 488.5,620.8C490.4,622.2 493.5,622.9 494.5,623.3" fill="none" stroke="#4f8ad6" stroke-width="12.4"/>
<path d="M384,620.8C385.1,620.1 388.7,617.8 390.6,616.5C392.5,615.2 394.1,614.2 395.6,613.2C397.1,612.2 398.3,611.2 399.4,610.2C400.5,609.2 401.4,608.3 402.3,607.1C403.2,605.9 403.9,604.5 404.5,603C405.1,601.5 405.4,599.8 405.6,598C405.8,596.2 405.8,594.2 405.8,592C405.8,589.8 405.8,587.8 405.7,585C405.6,582.2 405.3,578 405,575C404.7,572 404.2,569.5 403.8,567C403.4,564.5 402.8,562.7 402.4,560C402,557.3 401.8,553.8 401.7,551C401.6,548.2 401.5,546 401.6,543.3C401.7,540.6 401.9,537.5 402.4,535C402.9,532.5 403.5,530.5 404.6,528.6C405.8,526.7 407.4,524.9 409.3,523.8C411.2,522.7 414,522 416.3,522C418.6,522 421.5,522.7 423.3,523.8C425.1,524.9 426.2,526.7 427.1,528.6C428,530.5 428.2,532.5 428.4,535C428.6,537.5 428.4,540.6 428.2,543.3C428,546 427.7,548.2 427.4,551C427.1,553.8 426.9,556 426.5,560C426.1,564 425.2,570.3 424.9,575C424.6,579.7 424.6,582.8 424.5,588C424.4,593.2 424.2,601.9 424.5,606C424.8,610.1 425,610.5 426,612.5C427,614.5 428.6,616.6 430.5,618C432.4,619.4 435.1,620.5 437.5,620.8C439.9,621 442.8,620.5 445,619.5C447.2,618.5 449.4,616.8 451,614.5C452.6,612.2 453.5,608.9 454.4,606C455.3,603.1 456.2,600 456.6,597C457,594 457.1,591 456.7,588C456.3,585 455.1,582 454.4,579C453.6,576 452.7,573.2 452.2,570C451.7,566.8 451.6,563.1 451.2,560C450.8,556.9 450.2,554.4 450,551.6C449.8,548.8 449.5,546.1 449.9,543.3C450.3,540.5 451,537.5 452.6,535C454.2,532.5 456.8,530.1 459.6,528.6C462.4,527.1 466.2,526.2 469.5,526.2C472.8,526.2 476.6,527.1 479.4,528.6C482.2,530.1 484.8,532.5 486.4,535C488,537.5 488.8,540.5 489.1,543.3C489.4,546.1 488.7,548.8 488.3,551.6C487.9,554.4 487.7,556.9 486.6,560C485.5,563.1 483,565.3 481.7,570C480.4,574.7 479.4,583.5 478.9,588C478.4,592.5 478.4,594 478.5,597C478.6,600 478.6,603 479.4,606C480.2,609 481.9,612.5 483.4,615C484.9,617.5 486.6,619.4 488.5,620.8C490.4,622.2 493.5,622.9 494.5,623.3" fill="none" stroke="#cfe4f9" stroke-width="12.4" stroke-dasharray="0.8 4.2" stroke-dashoffset="-2"/>
<path d="M494.5,623.3C495.6,623.4 498.8,624.1 501,624C503.2,623.9 505.7,623.7 508,622.8C510.3,621.9 513.1,620.8 515,618.5C516.9,616.2 518.5,612.5 519.3,609.3C520.1,606.1 519.9,602.8 519.8,599.5C519.7,596.2 519.3,593.1 518.8,589.7C518.3,586.3 517.4,582.1 516.8,579C516.2,575.9 515.7,573.4 515.3,571C514.9,568.6 514.5,567.1 514.2,564.5C513.9,561.9 513.6,558.4 513.4,555.4C513.2,552.4 512.8,549.3 513.2,546.3C513.6,543.3 514.1,539.8 515.7,537.2C517.3,534.6 519.8,532.2 522.6,530.7C525.4,529.2 529,528.3 532.3,528.3C535.6,528.3 539.4,529.2 542.2,530.7C545,532.2 547.5,534.6 549.2,537.2C550.9,539.8 551.8,543.3 552.2,546.3C552.6,549.3 552.2,552.4 551.7,555.4C551.2,558.4 550.6,561.4 549.5,564.5C548.4,567.6 546.3,571.2 545.1,574C543.9,576.8 543,578.4 542.4,581C541.8,583.6 541.4,586.6 541.3,589.7C541.2,592.8 541.2,596.2 541.8,599.5C542.3,602.8 543.4,606.3 544.6,609.3C545.8,612.3 547.3,615.2 549,617.5C550.7,619.8 552.9,621.8 555,623C557.1,624.2 559.4,625 561.5,625C563.6,625 565.8,624.3 567.5,623C569.2,621.7 570.7,619.3 571.8,617C572.9,614.7 573.6,612.3 574,609.3C574.4,606.3 574.3,603 574.3,599C574.3,595 574.2,589.8 574.2,585C574.2,580.2 574.3,574.2 574.2,570C574.1,565.8 573.9,564 573.8,560C573.6,556 573.3,550.1 573.3,546.3C573.3,542.5 573.2,539.8 573.8,537.2C574.4,534.6 575.3,532.3 577,530.6C578.7,528.9 581.6,527.2 584,527C586.4,526.8 589.5,528 591.5,529.3C593.5,530.5 594.8,532.5 596,534.5C597.2,536.5 597.9,539 598.5,541C599.1,543 599.3,543.9 599.4,546.3C599.5,548.7 599.5,552.4 599.3,555.4C599.1,558.4 598.7,561.4 598,564.5C597.3,567.6 596,571.1 595.2,574C594.4,576.9 593.7,579.4 593.3,582C592.9,584.6 593,586.8 593,589.7C593,592.6 592.9,596.2 593.5,599.5C594.1,602.8 595.3,606.4 596.7,609.3C598.1,612.2 599.9,614.9 602,617C604.1,619.1 607.1,620.8 609.4,622C611.7,623.2 614.9,624.1 616,624.5" fill="none" stroke="#bd0f79" stroke-width="12.4"/>
<path d="M494.5,623.3C495.6,623.4 498.8,624.1 501,624C503.2,623.9 505.7,623.7 508,622.8C510.3,621.9 513.1,620.8 515,618.5C516.9,616.2 518.5,612.5 519.3,609.3C520.1,606.1 519.9,602.8 519.8,599.5C519.7,596.2 519.3,593.1 518.8,589.7C518.3,586.3 517.4,582.1 516.8,579C516.2,575.9 515.7,573.4 515.3,571C514.9,568.6 514.5,567.1 514.2,564.5C513.9,561.9 513.6,558.4 513.4,555.4C513.2,552.4 512.8,549.3 513.2,546.3C513.6,543.3 514.1,539.8 515.7,537.2C517.3,534.6 519.8,532.2 522.6,530.7C525.4,529.2 529,528.3 532.3,528.3C535.6,528.3 539.4,529.2 542.2,530.7C545,532.2 547.5,534.6 549.2,537.2C550.9,539.8 551.8,543.3 552.2,546.3C552.6,549.3 552.2,552.4 551.7,555.4C551.2,558.4 550.6,561.4 549.5,564.5C548.4,567.6 546.3,571.2 545.1,574C543.9,576.8 543,578.4 542.4,581C541.8,583.6 541.4,586.6 541.3,589.7C541.2,592.8 541.2,596.2 541.8,599.5C542.3,602.8 543.4,606.3 544.6,609.3C545.8,612.3 547.3,615.2 549,617.5C550.7,619.8 552.9,621.8 555,623C557.1,624.2 559.4,625 561.5,625C563.6,625 565.8,624.3 567.5,623C569.2,621.7 570.7,619.3 571.8,617C572.9,614.7 573.6,612.3 574,609.3C574.4,606.3 574.3,603 574.3,599C574.3,595 574.2,589.8 574.2,585C574.2,580.2 574.3,574.2 574.2,570C574.1,565.8 573.9,564 573.8,560C573.6,556 573.3,550.1 573.3,546.3C573.3,542.5 573.2,539.8 573.8,537.2C574.4,534.6 575.3,532.3 577,530.6C578.7,528.9 581.6,527.2 584,527C586.4,526.8 589.5,528 591.5,529.3C593.5,530.5 594.8,532.5 596,534.5C597.2,536.5 597.9,539 598.5,541C599.1,543 599.3,543.9 599.4,546.3C599.5,548.7 599.5,552.4 599.3,555.4C599.1,558.4 598.7,561.4 598,564.5C597.3,567.6 596,571.1 595.2,574C594.4,576.9 593.7,579.4 593.3,582C592.9,584.6 593,586.8 593,589.7C593,592.6 592.9,596.2 593.5,599.5C594.1,602.8 595.3,606.4 596.7,609.3C598.1,612.2 599.9,614.9 602,617C604.1,619.1 607.1,620.8 609.4,622C611.7,623.2 614.9,624.1 616,624.5" fill="none" stroke="#f3c2e0" stroke-width="12.4" stroke-dasharray="0.8 4.2" stroke-dashoffset="-2"/>
<path d="M389,620.2 L394,618.8 L399,616.8 L403.5,613.6 L405,627 L389,627Z" fill="#d9cdb6"/>
</g>
<clipPath id="oc"><path d="M415,371.4C415.1,369.6 415.5,367.3 416.3,365.5C417.1,363.7 418.1,362.1 419.7,360.8C421.3,359.5 423.7,358.2 426,357.5C428.3,356.8 430.8,356.1 433.3,356.3C435.8,356.6 438.2,357.7 441,359C443.8,360.3 447.3,362.8 450,364C452.7,365.2 454.8,366 457,366.5C459.2,367 460.5,367.2 463.5,367C466.5,366.8 471.5,365.9 475,365C478.5,364.1 481.9,362.5 484.7,361.8C487.4,361.1 489.7,361.4 491.5,361C493.3,360.6 494.4,361 495.3,359.5C496.2,358 496.3,354.8 496.8,352C497.3,349.2 497.6,346.2 498.5,343C499.4,339.8 500.8,335.6 502.5,333C504.2,330.4 506.8,328.4 508.7,327.6C510.6,326.9 512.5,327.7 514,328.5C515.5,329.3 516.6,330.6 517.8,332.5C519,334.4 520,337 521,340C522,343 523,347.2 523.9,350.3C524.8,353.4 525.3,356.2 526.3,358.5C527.3,360.8 528.5,363.3 530,363.8C531.5,364.3 533.2,363 535.5,361.5C537.8,360 540.9,357.1 543.5,354.8C546.1,352.6 548.5,350 551,348C553.5,346 556.2,343.9 558.7,342.7C561.2,341.5 564,340.7 566,341C568,341.3 569.4,342.8 570.5,344.3C571.6,345.8 572.1,348.1 572.5,350C572.9,351.9 572.9,354.1 572.6,356C572.3,357.9 571.7,359.8 570.8,361.5C569.9,363.2 568.5,364.6 567,366C565.5,367.4 563.5,368.5 561.7,370C559.9,371.5 557.8,373.2 556,375C554.2,376.8 552.2,378.9 551,380.5C549.8,382.1 549.2,383.2 549,384.5C548.8,385.8 548.9,387 549.6,388.2C550.3,389.4 551.5,390.7 553,391.7C554.5,392.7 556.4,393.5 558.7,394C561,394.5 564.3,394.8 567,394.8C569.7,394.9 572.3,394.3 575,394.3C577.7,394.3 580.5,394.2 583.2,394.6C585.9,395.1 588.9,395.9 591,397C593.1,398.1 594.8,399.6 596,401C597.2,402.4 598,404.1 598.3,405.7C598.5,407.3 598.2,409 597.5,410.5C596.8,412 595.7,413.6 593.8,414.8C591.9,416.1 589,417.1 586,418C583,418.9 578.8,419.5 575.6,420C572.4,420.5 569.5,420.6 567,421C564.5,421.4 562.6,421.8 560.5,422.6C558.4,423.4 556.2,424.5 554.5,426C552.8,427.5 551.3,429.6 550.3,431.4C549.2,433.2 548.5,435 548.2,437C547.9,439 548,441.3 548.4,443.5C548.8,445.7 549.5,448 550.5,450C551.5,452 552.9,453.9 554.5,455.6C556.1,457.3 558.1,458.5 560,460C561.9,461.5 564.4,463.2 566,464.5C567.6,465.8 568.7,466.8 569.5,468C570.3,469.2 570.7,470.6 570.6,472C570.5,473.4 570,475.1 569,476.5C568,477.9 566.2,479.5 564.7,480.5C563.2,481.5 561.8,482.2 560,482.7C558.2,483.2 556.2,483.6 554,483.6C551.8,483.6 549.2,483.3 547,482.8C544.8,482.3 542.5,481.4 540.5,480.5C538.5,479.6 536.8,478.5 535,477.5C533.2,476.5 531.7,475.4 530,474.7C528.3,474 526.5,473.7 525,473.5C523.5,473.3 523.3,473.4 520.8,473.7C518.3,474 513.9,474.8 510,475.5C506.1,476.2 500.6,477.2 497.3,477.8C494.1,478.4 492.5,478.2 490.5,478.8C488.5,479.4 487,480.4 485.5,481.5C484,482.6 482.6,484 481.4,485.6C480.1,487.2 479.2,489.3 478,491C476.8,492.7 475.4,494.7 473.9,496C472.4,497.3 470.8,498.4 469,499C467.2,499.6 465.3,500.2 463.3,499.8C461.3,499.4 458.7,498.2 457,496.7C455.3,495.1 453.8,492.4 453,490.5C452.2,488.6 452.3,486.7 452.5,485C452.7,483.3 453.4,482.2 454.2,480.5C455,478.8 456.6,477 457.5,475C458.4,473 459.2,470.9 459.5,468.7C459.8,466.5 459.6,464.3 459,462C458.4,459.7 456.9,456.9 455.7,455C454.5,453.1 453.2,451.8 452,450.7C450.8,449.6 450.1,449.2 448.4,448.6C446.7,448 444.3,447.4 442,447.2C439.7,447 437.3,446.9 434.8,447.4C432.3,447.9 429.5,449.3 427,450.2C424.5,451.1 421.9,452.4 419.7,453C417.4,453.6 415.3,453.7 413.5,453.6C411.7,453.5 410.3,453 409,452.2C407.7,451.4 406.4,450 405.5,448.6C404.6,447.2 403.9,445.5 403.8,443.9C403.7,442.3 404.2,440.5 404.8,439C405.4,437.5 406.2,436.4 407.6,434.8C409,433.2 411,431 413,429.5C415,428 417.2,426.9 419.7,425.7C422.2,424.5 425,423.5 428,422.5C431,421.5 435,420.4 437.8,419.7C440.6,419 442.7,418.9 445,418.4C447.3,417.8 449.7,417.2 451.4,416.4C453.1,415.5 454.1,414.5 455,413.3C455.9,412.1 456.6,410.4 456.5,409C456.4,407.6 455.4,406.1 454.5,404.7C453.6,403.3 452.5,401.8 451,400.5C449.5,399.2 447.7,398.2 445.4,397C443.1,395.8 439.6,394.3 437,393C434.4,391.7 432.3,390.7 430,389.4C427.7,388.1 425,386.5 423,385C421,383.5 419.2,382 418,380.5C416.8,379 416.1,377.5 415.6,376C415.1,374.5 414.9,373.1 415,371.4Z"/></clipPath>
<clipPath id="pb0"><path d="M462.8,366.5C459.8,365.2 461.9,360.8 461.8,358C461.7,355.2 461.7,352.3 462.3,350C462.9,347.7 464.1,345.5 465.5,344C466.9,342.5 469.1,341.1 471,341C472.9,340.9 474.7,341.9 477,343.5C479.3,345.1 482.5,348.3 484.7,350.3C486.9,352.3 488.4,353.8 490,355.5C491.6,357.2 496.2,358.8 494.5,360.5C492.8,362.2 485.3,365 480,366C474.7,367 465.8,367.8 462.8,366.5Z"/></clipPath>
<g clip-path="url(#pb0)"><path d="M462.8,366.5C459.8,365.2 461.9,360.8 461.8,358C461.7,355.2 461.7,352.3 462.3,350C462.9,347.7 464.1,345.5 465.5,344C466.9,342.5 469.1,341.1 471,341C472.9,340.9 474.7,341.9 477,343.5C479.3,345.1 482.5,348.3 484.7,350.3C486.9,352.3 488.4,353.8 490,355.5C491.6,357.2 496.2,358.8 494.5,360.5C492.8,362.2 485.3,365 480,366C474.7,367 465.8,367.8 462.8,366.5Z" fill="#a896d2"/>
<path d="M477,362L449.5,373.9L447.1,364.3Z" fill="#a896d2" stroke="#6f6aa8" stroke-width="0.4"/>
<path d="M477,362L447.1,364.3L448,354.5Z" fill="#b4d3ad" stroke="#6f6aa8" stroke-width="0.4"/>
<path d="M477,362L448,354.5L452,345.4Z" fill="#a896d2" stroke="#6f6aa8" stroke-width="0.4"/>
<path d="M477,362L452,345.4L458.8,338.2Z" fill="#b4d3ad" stroke="#6f6aa8" stroke-width="0.4"/>
<path d="M477,362L458.8,338.2L467.5,333.5Z" fill="#a896d2" stroke="#6f6aa8" stroke-width="0.4"/>
<path d="M477,362L467.5,333.5L477.3,332Z" fill="#d6d4e8" stroke="#6f6aa8" stroke-width="0.4"/>
<path d="M477,362L477.3,332L487,333.7Z" fill="#a896d2" stroke="#6f6aa8" stroke-width="0.4"/>
<path d="M477,362L487,333.7L495.7,338.5Z" fill="#b4d3ad" stroke="#6f6aa8" stroke-width="0.4"/>
<path d="M477,362L495.7,338.5L502.3,345.9Z" fill="#a896d2" stroke="#6f6aa8" stroke-width="0.4"/>
<path d="M477,362L502.3,345.9L506.2,355Z" fill="#8a8fd2" stroke="#6f6aa8" stroke-width="0.4"/>
</g>
<path d="M462.8,366.5C459.8,365.2 461.9,360.8 461.8,358C461.7,355.2 461.7,352.3 462.3,350C462.9,347.7 464.1,345.5 465.5,344C466.9,342.5 469.1,341.1 471,341C472.9,340.9 474.7,341.9 477,343.5C479.3,345.1 482.5,348.3 484.7,350.3C486.9,352.3 488.4,353.8 490,355.5C491.6,357.2 496.2,358.8 494.5,360.5C492.8,362.2 485.3,365 480,366C474.7,367 465.8,367.8 462.8,366.5Z" fill="none" stroke="#1d1b3a" stroke-width="1"/>
<clipPath id="pb1"><path d="M452,400.3C450.4,398.6 448.1,400.9 446,401.8C443.9,402.7 441.1,404.2 439.5,405.5C437.9,406.8 436.1,408.4 436.3,409.4C436.6,410.4 439.1,411.1 441,411.6C442.9,412.1 445.6,412.4 448,412.5C450.4,412.6 454.8,414 455.5,412C456.2,410 453.6,402 452,400.3Z"/></clipPath>
<g clip-path="url(#pb1)"><path d="M452,400.3C450.4,398.6 448.1,400.9 446,401.8C443.9,402.7 441.1,404.2 439.5,405.5C437.9,406.8 436.1,408.4 436.3,409.4C436.6,410.4 439.1,411.1 441,411.6C442.9,412.1 445.6,412.4 448,412.5C450.4,412.6 454.8,414 455.5,412C456.2,410 453.6,402 452,400.3Z" fill="#a896d2"/>
<path d="M453,407L452,437L440.5,434.3Z" fill="#b4d3ad" stroke="#6f6aa8" stroke-width="0.4"/>
<path d="M453,407L440.5,434.3L430.9,427.3Z" fill="#a896d2" stroke="#6f6aa8" stroke-width="0.4"/>
<path d="M453,407L430.9,427.3L424.7,417.1Z" fill="#b4d3ad" stroke="#6f6aa8" stroke-width="0.4"/>
<path d="M453,407L424.7,417.1L423,405.3Z" fill="#a896d2" stroke="#6f6aa8" stroke-width="0.4"/>
<path d="M453,407L423,405.3L426.1,393.8Z" fill="#d6d4e8" stroke="#6f6aa8" stroke-width="0.4"/>
<path d="M453,407L426.1,393.8L433.3,384.4Z" fill="#b4d3ad" stroke="#6f6aa8" stroke-width="0.4"/>
<path d="M453,407L433.3,384.4L443.6,378.5Z" fill="#a896d2" stroke="#6f6aa8" stroke-width="0.4"/>
</g>
<path d="M452,400.3C450.4,398.6 448.1,400.9 446,401.8C443.9,402.7 441.1,404.2 439.5,405.5C437.9,406.8 436.1,408.4 436.3,409.4C436.6,410.4 439.1,411.1 441,411.6C442.9,412.1 445.6,412.4 448,412.5C450.4,412.6 454.8,414 455.5,412C456.2,410 453.6,402 452,400.3Z" fill="none" stroke="#1d1b3a" stroke-width="1"/>
<clipPath id="pb2"><path d="M496.8,477C493,478.2 497.4,479.9 498,481.5C498.6,483.1 499.4,484.9 500.5,486.5C501.6,488.1 503.1,489.9 504.5,491C505.9,492.1 507.5,493.1 509,493.2C510.5,493.3 512.1,492.7 513.5,491.5C514.9,490.3 516.4,487.9 517.5,486C518.6,484.1 519.4,482 520,480C520.6,478 524.9,474.5 521,474C517.1,473.5 500.6,475.8 496.8,477Z"/></clipPath>
<g clip-path="url(#pb2)"><path d="M496.8,477C493,478.2 497.4,479.9 498,481.5C498.6,483.1 499.4,484.9 500.5,486.5C501.6,488.1 503.1,489.9 504.5,491C505.9,492.1 507.5,493.1 509,493.2C510.5,493.3 512.1,492.7 513.5,491.5C514.9,490.3 516.4,487.9 517.5,486C518.6,484.1 519.4,482 520,480C520.6,478 524.9,474.5 521,474C517.1,473.5 500.6,475.8 496.8,477Z" fill="#a896d2"/>
<path d="M509,477L538.9,474.4L537.8,485.3Z" fill="#a896d2" stroke="#6f6aa8" stroke-width="0.4"/>
<path d="M509,477L537.8,485.3L532.9,495.1Z" fill="#8a8fd2" stroke="#6f6aa8" stroke-width="0.4"/>
<path d="M509,477L532.9,495.1L524.7,502.5Z" fill="#a896d2" stroke="#6f6aa8" stroke-width="0.4"/>
<path d="M509,477L524.7,502.5L514.5,506.5Z" fill="#d6d4e8" stroke="#6f6aa8" stroke-width="0.4"/>
<path d="M509,477L514.5,506.5L503.5,506.5Z" fill="#b4d3ad" stroke="#6f6aa8" stroke-width="0.4"/>
<path d="M509,477L503.5,506.5L493.3,502.5Z" fill="#d6d4e8" stroke="#6f6aa8" stroke-width="0.4"/>
<path d="M509,477L493.3,502.5L485.1,495.1Z" fill="#a896d2" stroke="#6f6aa8" stroke-width="0.4"/>
<path d="M509,477L485.1,495.1L480.2,485.3Z" fill="#8a8fd2" stroke="#6f6aa8" stroke-width="0.4"/>
<path d="M509,477L480.2,485.3L479.1,474.4Z" fill="#a896d2" stroke="#6f6aa8" stroke-width="0.4"/>
</g>
<path d="M496.8,477C493,478.2 497.4,479.9 498,481.5C498.6,483.1 499.4,484.9 500.5,486.5C501.6,488.1 503.1,489.9 504.5,491C505.9,492.1 507.5,493.1 509,493.2C510.5,493.3 512.1,492.7 513.5,491.5C514.9,490.3 516.4,487.9 517.5,486C518.6,484.1 519.4,482 520,480C520.6,478 524.9,474.5 521,474C517.1,473.5 500.6,475.8 496.8,477Z" fill="none" stroke="#1d1b3a" stroke-width="1"/>
<path d="M468,366 C469,358 472,353.5 476,353 C481,353.5 485,358 487,363Z" fill="#8a8fd2" stroke="#1d1b3a" stroke-width="0.8"/>
<path d="M503,476.5 C504,482 506,485.5 509,486 C512,485.5 514,482 515,475.5Z" fill="#8a8fd2" stroke="#1d1b3a" stroke-width="0.8"/>
<path d="M415,371.4C415.1,369.6 415.5,367.3 416.3,365.5C417.1,363.7 418.1,362.1 419.7,360.8C421.3,359.5 423.7,358.2 426,357.5C428.3,356.8 430.8,356.1 433.3,356.3C435.8,356.6 438.2,357.7 441,359C443.8,360.3 447.3,362.8 450,364C452.7,365.2 454.8,366 457,366.5C459.2,367 460.5,367.2 463.5,367C466.5,366.8 471.5,365.9 475,365C478.5,364.1 481.9,362.5 484.7,361.8C487.4,361.1 489.7,361.4 491.5,361C493.3,360.6 494.4,361 495.3,359.5C496.2,358 496.3,354.8 496.8,352C497.3,349.2 497.6,346.2 498.5,343C499.4,339.8 500.8,335.6 502.5,333C504.2,330.4 506.8,328.4 508.7,327.6C510.6,326.9 512.5,327.7 514,328.5C515.5,329.3 516.6,330.6 517.8,332.5C519,334.4 520,337 521,340C522,343 523,347.2 523.9,350.3C524.8,353.4 525.3,356.2 526.3,358.5C527.3,360.8 528.5,363.3 530,363.8C531.5,364.3 533.2,363 535.5,361.5C537.8,360 540.9,357.1 543.5,354.8C546.1,352.6 548.5,350 551,348C553.5,346 556.2,343.9 558.7,342.7C561.2,341.5 564,340.7 566,341C568,341.3 569.4,342.8 570.5,344.3C571.6,345.8 572.1,348.1 572.5,350C572.9,351.9 572.9,354.1 572.6,356C572.3,357.9 571.7,359.8 570.8,361.5C569.9,363.2 568.5,364.6 567,366C565.5,367.4 563.5,368.5 561.7,370C559.9,371.5 557.8,373.2 556,375C554.2,376.8 552.2,378.9 551,380.5C549.8,382.1 549.2,383.2 549,384.5C548.8,385.8 548.9,387 549.6,388.2C550.3,389.4 551.5,390.7 553,391.7C554.5,392.7 556.4,393.5 558.7,394C561,394.5 564.3,394.8 567,394.8C569.7,394.9 572.3,394.3 575,394.3C577.7,394.3 580.5,394.2 583.2,394.6C585.9,395.1 588.9,395.9 591,397C593.1,398.1 594.8,399.6 596,401C597.2,402.4 598,404.1 598.3,405.7C598.5,407.3 598.2,409 597.5,410.5C596.8,412 595.7,413.6 593.8,414.8C591.9,416.1 589,417.1 586,418C583,418.9 578.8,419.5 575.6,420C572.4,420.5 569.5,420.6 567,421C564.5,421.4 562.6,421.8 560.5,422.6C558.4,423.4 556.2,424.5 554.5,426C552.8,427.5 551.3,429.6 550.3,431.4C549.2,433.2 548.5,435 548.2,437C547.9,439 548,441.3 548.4,443.5C548.8,445.7 549.5,448 550.5,450C551.5,452 552.9,453.9 554.5,455.6C556.1,457.3 558.1,458.5 560,460C561.9,461.5 564.4,463.2 566,464.5C567.6,465.8 568.7,466.8 569.5,468C570.3,469.2 570.7,470.6 570.6,472C570.5,473.4 570,475.1 569,476.5C568,477.9 566.2,479.5 564.7,480.5C563.2,481.5 561.8,482.2 560,482.7C558.2,483.2 556.2,483.6 554,483.6C551.8,483.6 549.2,483.3 547,482.8C544.8,482.3 542.5,481.4 540.5,480.5C538.5,479.6 536.8,478.5 535,477.5C533.2,476.5 531.7,475.4 530,474.7C528.3,474 526.5,473.7 525,473.5C523.5,473.3 523.3,473.4 520.8,473.7C518.3,474 513.9,474.8 510,475.5C506.1,476.2 500.6,477.2 497.3,477.8C494.1,478.4 492.5,478.2 490.5,478.8C488.5,479.4 487,480.4 485.5,481.5C484,482.6 482.6,484 481.4,485.6C480.1,487.2 479.2,489.3 478,491C476.8,492.7 475.4,494.7 473.9,496C472.4,497.3 470.8,498.4 469,499C467.2,499.6 465.3,500.2 463.3,499.8C461.3,499.4 458.7,498.2 457,496.7C455.3,495.1 453.8,492.4 453,490.5C452.2,488.6 452.3,486.7 452.5,485C452.7,483.3 453.4,482.2 454.2,480.5C455,478.8 456.6,477 457.5,475C458.4,473 459.2,470.9 459.5,468.7C459.8,466.5 459.6,464.3 459,462C458.4,459.7 456.9,456.9 455.7,455C454.5,453.1 453.2,451.8 452,450.7C450.8,449.6 450.1,449.2 448.4,448.6C446.7,448 444.3,447.4 442,447.2C439.7,447 437.3,446.9 434.8,447.4C432.3,447.9 429.5,449.3 427,450.2C424.5,451.1 421.9,452.4 419.7,453C417.4,453.6 415.3,453.7 413.5,453.6C411.7,453.5 410.3,453 409,452.2C407.7,451.4 406.4,450 405.5,448.6C404.6,447.2 403.9,445.5 403.8,443.9C403.7,442.3 404.2,440.5 404.8,439C405.4,437.5 406.2,436.4 407.6,434.8C409,433.2 411,431 413,429.5C415,428 417.2,426.9 419.7,425.7C422.2,424.5 425,423.5 428,422.5C431,421.5 435,420.4 437.8,419.7C440.6,419 442.7,418.9 445,418.4C447.3,417.8 449.7,417.2 451.4,416.4C453.1,415.5 454.1,414.5 455,413.3C455.9,412.1 456.6,410.4 456.5,409C456.4,407.6 455.4,406.1 454.5,404.7C453.6,403.3 452.5,401.8 451,400.5C449.5,399.2 447.7,398.2 445.4,397C443.1,395.8 439.6,394.3 437,393C434.4,391.7 432.3,390.7 430,389.4C427.7,388.1 425,386.5 423,385C421,383.5 419.2,382 418,380.5C416.8,379 416.1,377.5 415.6,376C415.1,374.5 414.9,373.1 415,371.4Z" fill="#2a2584"/>
<g clip-path="url(#oc)">
<path d="M415,371.4C415.1,369.6 415.5,367.3 416.3,365.5C417.1,363.7 418.1,362.1 419.7,360.8C421.3,359.5 423.7,358.2 426,357.5C428.3,356.8 430.8,356.1 433.3,356.3C435.8,356.6 438.2,357.7 441,359C443.8,360.3 447.3,362.8 450,364C452.7,365.2 454.8,366 457,366.5C459.2,367 460.5,367.2 463.5,367C466.5,366.8 471.5,365.9 475,365C478.5,364.1 481.9,362.5 484.7,361.8C487.4,361.1 489.7,361.4 491.5,361C493.3,360.6 494.4,361 495.3,359.5C496.2,358 496.3,354.8 496.8,352C497.3,349.2 497.6,346.2 498.5,343C499.4,339.8 500.8,335.6 502.5,333C504.2,330.4 506.8,328.4 508.7,327.6C510.6,326.9 512.5,327.7 514,328.5C515.5,329.3 516.6,330.6 517.8,332.5C519,334.4 520,337 521,340C522,343 523,347.2 523.9,350.3C524.8,353.4 525.3,356.2 526.3,358.5C527.3,360.8 528.5,363.3 530,363.8C531.5,364.3 533.2,363 535.5,361.5C537.8,360 540.9,357.1 543.5,354.8C546.1,352.6 548.5,350 551,348C553.5,346 556.2,343.9 558.7,342.7C561.2,341.5 564,340.7 566,341C568,341.3 569.4,342.8 570.5,344.3C571.6,345.8 572.1,348.1 572.5,350C572.9,351.9 572.9,354.1 572.6,356C572.3,357.9 571.7,359.8 570.8,361.5C569.9,363.2 568.5,364.6 567,366C565.5,367.4 563.5,368.5 561.7,370C559.9,371.5 557.8,373.2 556,375C554.2,376.8 552.2,378.9 551,380.5C549.8,382.1 549.2,383.2 549,384.5C548.8,385.8 548.9,387 549.6,388.2C550.3,389.4 551.5,390.7 553,391.7C554.5,392.7 556.4,393.5 558.7,394C561,394.5 564.3,394.8 567,394.8C569.7,394.9 572.3,394.3 575,394.3C577.7,394.3 580.5,394.2 583.2,394.6C585.9,395.1 588.9,395.9 591,397C593.1,398.1 594.8,399.6 596,401C597.2,402.4 598,404.1 598.3,405.7C598.5,407.3 598.2,409 597.5,410.5C596.8,412 595.7,413.6 593.8,414.8C591.9,416.1 589,417.1 586,418C583,418.9 578.8,419.5 575.6,420C572.4,420.5 569.5,420.6 567,421C564.5,421.4 562.6,421.8 560.5,422.6C558.4,423.4 556.2,424.5 554.5,426C552.8,427.5 551.3,429.6 550.3,431.4C549.2,433.2 548.5,435 548.2,437C547.9,439 548,441.3 548.4,443.5C548.8,445.7 549.5,448 550.5,450C551.5,452 552.9,453.9 554.5,455.6C556.1,457.3 558.1,458.5 560,460C561.9,461.5 564.4,463.2 566,464.5C567.6,465.8 568.7,466.8 569.5,468C570.3,469.2 570.7,470.6 570.6,472C570.5,473.4 570,475.1 569,476.5C568,477.9 566.2,479.5 564.7,480.5C563.2,481.5 561.8,482.2 560,482.7C558.2,483.2 556.2,483.6 554,483.6C551.8,483.6 549.2,483.3 547,482.8C544.8,482.3 542.5,481.4 540.5,480.5C538.5,479.6 536.8,478.5 535,477.5C533.2,476.5 531.7,475.4 530,474.7C528.3,474 526.5,473.7 525,473.5C523.5,473.3 523.3,473.4 520.8,473.7C518.3,474 513.9,474.8 510,475.5C506.1,476.2 500.6,477.2 497.3,477.8C494.1,478.4 492.5,478.2 490.5,478.8C488.5,479.4 487,480.4 485.5,481.5C484,482.6 482.6,484 481.4,485.6C480.1,487.2 479.2,489.3 478,491C476.8,492.7 475.4,494.7 473.9,496C472.4,497.3 470.8,498.4 469,499C467.2,499.6 465.3,500.2 463.3,499.8C461.3,499.4 458.7,498.2 457,496.7C455.3,495.1 453.8,492.4 453,490.5C452.2,488.6 452.3,486.7 452.5,485C452.7,483.3 453.4,482.2 454.2,480.5C455,478.8 456.6,477 457.5,475C458.4,473 459.2,470.9 459.5,468.7C459.8,466.5 459.6,464.3 459,462C458.4,459.7 456.9,456.9 455.7,455C454.5,453.1 453.2,451.8 452,450.7C450.8,449.6 450.1,449.2 448.4,448.6C446.7,448 444.3,447.4 442,447.2C439.7,447 437.3,446.9 434.8,447.4C432.3,447.9 429.5,449.3 427,450.2C424.5,451.1 421.9,452.4 419.7,453C417.4,453.6 415.3,453.7 413.5,453.6C411.7,453.5 410.3,453 409,452.2C407.7,451.4 406.4,450 405.5,448.6C404.6,447.2 403.9,445.5 403.8,443.9C403.7,442.3 404.2,440.5 404.8,439C405.4,437.5 406.2,436.4 407.6,434.8C409,433.2 411,431 413,429.5C415,428 417.2,426.9 419.7,425.7C422.2,424.5 425,423.5 428,422.5C431,421.5 435,420.4 437.8,419.7C440.6,419 442.7,418.9 445,418.4C447.3,417.8 449.7,417.2 451.4,416.4C453.1,415.5 454.1,414.5 455,413.3C455.9,412.1 456.6,410.4 456.5,409C456.4,407.6 455.4,406.1 454.5,404.7C453.6,403.3 452.5,401.8 451,400.5C449.5,399.2 447.7,398.2 445.4,397C443.1,395.8 439.6,394.3 437,393C434.4,391.7 432.3,390.7 430,389.4C427.7,388.1 425,386.5 423,385C421,383.5 419.2,382 418,380.5C416.8,379 416.1,377.5 415.6,376C415.1,374.5 414.9,373.1 415,371.4Z" fill="none" stroke="#5d59b8" stroke-width="22.2" stroke-dasharray="0.6 2.7"/>
<path d="M450,364L450.3,364.2L450.7,364.3L451,364.4L451.3,364.6L451.6,364.7L451.9,364.8L452.2,365L452.5,365.1L452.8,365.2L453.1,365.3L453.4,365.4L453.7,365.5L453.9,365.6L454.2,365.7L454.5,365.8L454.8,365.9L455.1,366L455.3,366.1L455.6,366.2L455.9,366.2L456.2,366.3L456.4,366.4L456.7,366.4L457,366.5L457.3,366.6L457.5,366.6L457.8,366.7L458.1,366.7L458.3,366.8L458.5,366.8L458.8,366.9L459,366.9L459.3,366.9L459.5,367L459.7,367L460,367L460.2,367.1L460.5,367.1L460.7,367.1L461,367.1L461.3,367.1L461.5,367.1L461.8,367.1L462.1,367.1L462.5,367.1L462.8,367.1L463.1,367L463.5,367L463.9,367L464.3,366.9L464.7,366.9L465.1,366.8L465.6,366.8L466.1,366.7L466.5,366.6L467,366.6L467.5,366.5L468,366.4L468.5,366.3L469.1,366.2L469.6,366.1L470.1,366L470.6,365.9L471.1,365.8L471.6,365.7L472.1,365.6L472.6,365.5L473.1,365.4L473.6,365.3L474.1,365.2L474.6,365.1L475,365L475.4,364.9L475.9,364.8L476.3,364.6L476.8,364.5L477.2,364.4L477.6,364.2L478,364.1L478.5,363.9L478.9,363.8L479.3,363.6L479.7,363.5L480.1,363.3L480.6,363.2L481,363L481.4,362.9L481.7,362.7L482.1,362.6L482.5,362.5L482.9,362.3L483.3,362.2L483.6,362.1L484,362L484.4,361.9L484.7,361.8L485,361.7L485.4,361.7L485.7,361.6L486,361.5L486.4,361.5L486.7,361.4L487,361.4L487.3,361.4L487.6,361.4" fill="none" stroke="#2a2584" stroke-width="21.6" stroke-linecap="round"/>
<path d="M450,364L450.3,364.2L450.7,364.3L451,364.4L451.3,364.6L451.6,364.7L451.9,364.8L452.2,365L452.5,365.1L452.8,365.2L453.1,365.3L453.4,365.4L453.7,365.5L453.9,365.6L454.2,365.7L454.5,365.8L454.8,365.9L455.1,366L455.3,366.1L455.6,366.2L455.9,366.2L456.2,366.3L456.4,366.4L456.7,366.4L457,366.5L457.3,366.6L457.5,366.6L457.8,366.7L458.1,366.7L458.3,366.8L458.5,366.8L458.8,366.9L459,366.9L459.3,366.9L459.5,367L459.7,367L460,367L460.2,367.1L460.5,367.1L460.7,367.1L461,367.1L461.3,367.1L461.5,367.1L461.8,367.1L462.1,367.1L462.5,367.1L462.8,367.1L463.1,367L463.5,367L463.9,367L464.3,366.9L464.7,366.9L465.1,366.8L465.6,366.8L466.1,366.7L466.5,366.6L467,366.6L467.5,366.5L468,366.4L468.5,366.3L469.1,366.2L469.6,366.1L470.1,366L470.6,365.9L471.1,365.8L471.6,365.7L472.1,365.6L472.6,365.5L473.1,365.4L473.6,365.3L474.1,365.2L474.6,365.1L475,365L475.4,364.9L475.9,364.8L476.3,364.6L476.8,364.5L477.2,364.4L477.6,364.2L478,364.1L478.5,363.9L478.9,363.8L479.3,363.6L479.7,363.5L480.1,363.3L480.6,363.2L481,363L481.4,362.9L481.7,362.7L482.1,362.6L482.5,362.5L482.9,362.3L483.3,362.2L483.6,362.1L484,362L484.4,361.9L484.7,361.8L485,361.7L485.4,361.7L485.7,361.6L486,361.5L486.4,361.5L486.7,361.4L487,361.4L487.3,361.4L487.6,361.4" fill="none" stroke="#5d59b8" stroke-width="21.6" stroke-dasharray="0.6 2.7"/>
<path d="M534.1,477L533.9,476.9L533.7,476.7L533.5,476.6L533.3,476.5L533.1,476.4L532.9,476.2L532.7,476.1L532.5,476L532.3,475.9L532.1,475.7L531.9,475.6L531.6,475.5L531.4,475.4L531.2,475.3L531,475.2L530.8,475.1L530.6,475L530.4,474.9L530.2,474.8L530,474.7L529.8,474.6L529.6,474.5L529.4,474.5L529.2,474.4L528.9,474.3L528.7,474.3L528.5,474.2L528.3,474.1L528.1,474.1L527.9,474L527.7,474L527.5,473.9L527.2,473.9L527,473.8L526.8,473.8L526.6,473.7L526.4,473.7L526.2,473.7L526,473.6L525.8,473.6L525.6,473.6L525.4,473.5L525.2,473.5L525,473.5L524.8,473.5L524.6,473.5L524.5,473.4L524.3,473.4L524.2,473.4L524,473.4L523.9,473.4L523.8,473.4L523.7,473.4L523.5,473.4L523.4,473.4L523.3,473.4L523.1,473.4L523,473.4L522.8,473.4L522.7,473.5L522.5,473.5L522.3,473.5L522.1,473.5L521.9,473.6L521.6,473.6L521.4,473.6L521.1,473.7L520.8,473.7L520.5,473.7L520.1,473.8L519.8,473.8L519.4,473.9L519,474L518.6,474L518.2,474.1L517.8,474.2L517.3,474.2L516.9,474.3L516.4,474.4L515.9,474.5L515.5,474.6L515,474.6L514.5,474.7L514,474.8L513.5,474.9L513,475L512.5,475.1L512,475.2L511.5,475.2L511,475.3L510.5,475.4L510,475.5L509.5,475.6L509,475.7L508.5,475.8L507.9,475.9L507.4,476L506.8,476.1L506.3,476.2L505.7,476.3L505.1,476.4L504.5,476.5L504,476.6L503.4,476.7L502.8,476.8L502.3,476.9L501.7,477L501.2,477.1L500.6,477.2L500.1,477.3L499.6,477.4L499.1,477.5L498.6,477.6L498.2,477.7L497.7,477.7L497.3,477.8L496.9,477.9L496.5,477.9L496.2,478L495.8,478L495.5,478.1L495.1,478.1L494.8,478.1L494.5,478.2L494.2,478.2L494,478.2L493.7,478.2L493.4,478.3L493.2,478.3L492.9,478.3L492.7,478.4L492.4,478.4L492.2,478.4L491.9,478.5L491.7,478.5L491.5,478.6L491.2,478.6L491,478.7" fill="none" stroke="#2a2584" stroke-width="21.6" stroke-linecap="round"/>
<path d="M534.1,477L533.9,476.9L533.7,476.7L533.5,476.6L533.3,476.5L533.1,476.4L532.9,476.2L532.7,476.1L532.5,476L532.3,475.9L532.1,475.7L531.9,475.6L531.6,475.5L531.4,475.4L531.2,475.3L531,475.2L530.8,475.1L530.6,475L530.4,474.9L530.2,474.8L530,474.7L529.8,474.6L529.6,474.5L529.4,474.5L529.2,474.4L528.9,474.3L528.7,474.3L528.5,474.2L528.3,474.1L528.1,474.1L527.9,474L527.7,474L527.5,473.9L527.2,473.9L527,473.8L526.8,473.8L526.6,473.7L526.4,473.7L526.2,473.7L526,473.6L525.8,473.6L525.6,473.6L525.4,473.5L525.2,473.5L525,473.5L524.8,473.5L524.6,473.5L524.5,473.4L524.3,473.4L524.2,473.4L524,473.4L523.9,473.4L523.8,473.4L523.7,473.4L523.5,473.4L523.4,473.4L523.3,473.4L523.1,473.4L523,473.4L522.8,473.4L522.7,473.5L522.5,473.5L522.3,473.5L522.1,473.5L521.9,473.6L521.6,473.6L521.4,473.6L521.1,473.7L520.8,473.7L520.5,473.7L520.1,473.8L519.8,473.8L519.4,473.9L519,474L518.6,474L518.2,474.1L517.8,474.2L517.3,474.2L516.9,474.3L516.4,474.4L515.9,474.5L515.5,474.6L515,474.6L514.5,474.7L514,474.8L513.5,474.9L513,475L512.5,475.1L512,475.2L511.5,475.2L511,475.3L510.5,475.4L510,475.5L509.5,475.6L509,475.7L508.5,475.8L507.9,475.9L507.4,476L506.8,476.1L506.3,476.2L505.7,476.3L505.1,476.4L504.5,476.5L504,476.6L503.4,476.7L502.8,476.8L502.3,476.9L501.7,477L501.2,477.1L500.6,477.2L500.1,477.3L499.6,477.4L499.1,477.5L498.6,477.6L498.2,477.7L497.7,477.7L497.3,477.8L496.9,477.9L496.5,477.9L496.2,478L495.8,478L495.5,478.1L495.1,478.1L494.8,478.1L494.5,478.2L494.2,478.2L494,478.2L493.7,478.2L493.4,478.3L493.2,478.3L492.9,478.3L492.7,478.4L492.4,478.4L492.2,478.4L491.9,478.5L491.7,478.5L491.5,478.6L491.2,478.6L491,478.7" fill="none" stroke="#5d59b8" stroke-width="21.6" stroke-dasharray="0.6 2.7"/>
<path d="M453.2,365.3L453.4,365.4L453.7,365.5L453.9,365.6L454.2,365.7L454.5,365.8L454.8,365.9L455.1,366L455.3,366.1L455.6,366.2L455.9,366.2L456.2,366.3L456.4,366.4L456.7,366.4L457,366.5" fill="none" stroke="#d5561f" stroke-width="23.2"/>
<path d="M486.5,361.5L486.7,361.4L487,361.4L487.3,361.4L487.6,361.4L487.9,361.3L488.2,361.3L488.5,361.3L488.8,361.3L489,361.3L489.3,361.2L489.6,361.2L489.8,361.2L490.1,361.2L490.3,361.2L490.5,361.2" fill="none" stroke="#d5561f" stroke-width="23.2"/>
<path d="M445.6,397.1L445.4,397L445.1,396.8L444.8,396.7L444.5,396.5L444.1,396.4L443.8,396.2L443.5,396L443.1,395.9L442.8,395.7L442.4,395.5L442,395.3L442,395.3" fill="none" stroke="#d5561f" stroke-width="23.2"/>
<path d="M543.6,354.7L543.8,354.5L544.1,354.2L544.5,353.9L544.8,353.7L545.1,353.4L545.4,353.1L545.7,352.8L546,352.5L546.3,352.2L546.5,352" fill="none" stroke="#d5561f" stroke-width="23.2"/>
<path d="M553.2,377.9L553.1,378.1L552.8,378.3L552.6,378.5L552.4,378.8L552.2,379L552,379.2L551.8,379.4L551.7,379.7L551.5,379.9L551.3,380.1L551.2,380.3L551,380.5L550.9,380.7L550.7,380.9L550.6,381" fill="none" stroke="#d5561f" stroke-width="23.2"/>
<path d="M563.6,394.6L563.8,394.7L564.2,394.7L564.5,394.7L564.9,394.7L565.2,394.7L565.6,394.8L566,394.8L566.3,394.8L566.7,394.8L567,394.8L567.3,394.8L567.6,394.8" fill="none" stroke="#d5561f" stroke-width="23.2"/>
<path d="M569.6,420.7L569.3,420.7L569,420.7L568.6,420.8L568.3,420.8L568,420.9L567.6,420.9L567.3,420.9L567,421L566.7,421.1L566.4,421.1L566.1,421.2L565.8,421.2L565.7,421.2" fill="none" stroke="#d5561f" stroke-width="23.2"/>
<path d="M549.6,447.9L549.7,448.2L549.8,448.4L549.9,448.7L550,449L550.1,449.2L550.3,449.5L550.4,449.7L550.5,450L550.6,450.3L550.8,450.5L550.9,450.8L551,451L551.2,451.2L551.3,451.5L551.3,451.5" fill="none" stroke="#d5561f" stroke-width="23.2"/>
<path d="M536.3,478.2L536.1,478.1L535.9,478L535.7,477.9L535.4,477.7L535.2,477.6L535,477.5L534.8,477.4L534.6,477.3L534.4,477.1L534.1,477L533.9,476.9L533.7,476.7L533.5,476.6L533.3,476.5L533.1,476.4L532.9,476.2L532.9,476.2" fill="none" stroke="#d5561f" stroke-width="23.2"/>
<path d="M487.1,480.4L487,480.4L486.8,480.6L486.6,480.7L486.5,480.8L486.3,480.9L486.1,481.1L485.9,481.2L485.7,481.4L485.5,481.5L485.3,481.6L485.1,481.8L484.9,481.9L484.8,482.1L484.6,482.2L484.4,482.4L484.2,482.6L484,482.7L484,482.8" fill="none" stroke="#d5561f" stroke-width="23.2"/>
<path d="M449.4,449L449.3,449L449.2,448.9L449,448.8L448.8,448.7L448.6,448.7L448.4,448.6L448.2,448.5L448,448.5L447.7,448.4L447.5,448.3L447.3,448.2L447,448.2L446.8,448.1L446.5,448L446.2,448L446,447.9L445.7,447.8L445.6,447.8" fill="none" stroke="#d5561f" stroke-width="23.2"/>
<path d="M459.5,469.1L459.5,469L459.5,468.7L459.5,468.4L459.6,468.2L459.6,467.9L459.6,467.6L459.6,467.3L459.6,467.1L459.6,466.8L459.6,466.5L459.6,466.2L459.6,466L459.6,465.7L459.6,465.4L459.6,465.1L459.6,465.1" fill="none" stroke="#d5561f" stroke-width="23.2"/>
<path d="M442.8,418.8L442.8,418.8L443,418.8L443.3,418.7L443.6,418.7L443.9,418.6L444.2,418.6L444.4,418.5L444.7,418.5L445,418.4L445.3,418.3L445.6,418.3L445.9,418.2L446.1,418.1L446.4,418L446.7,418" fill="none" stroke="#d5561f" stroke-width="23.2"/>
<path d="M479.4,363.6L479.7,363.5L480.1,363.3L480.6,363.2L481,363L481.4,362.9L481.7,362.7L482.1,362.6L482.5,362.5L482.9,362.3L483.3,362.2L483.6,362.1L484,362L484.1,362" fill="none" stroke="#8f9897" stroke-width="23.2"/>
<path d="M455.4,406.1L455.3,405.9L455.2,405.8L455.1,405.6L455,405.4L454.8,405.2L454.7,405.1L454.6,404.9L454.5,404.7L454.4,404.5L454.3,404.3L454.1,404.2L454,404L453.9,403.8L453.8,403.6L453.7,403.4L453.5,403.3L453.4,403.1L453.3,402.9L453.1,402.7L453,402.5L452.8,402.4L452.7,402.2L452.5,402L452.5,402" fill="none" stroke="#8f9897" stroke-width="23.2"/>
<path d="M526.4,358.8L526.4,358.8L526.6,359.1L526.7,359.4L526.8,359.6L527,359.9L527.1,360.2L527.2,360.5L527.4,360.8L527.5,361L527.7,361.3L527.8,361.6L528,361.8L528.1,362L528.3,362.3L528.4,362.5L528.6,362.7L528.7,362.9L528.9,363.1L528.9,363.1" fill="none" stroke="#8f9897" stroke-width="23.2"/>
<path d="M548.9,385.7L548.9,385.8L548.9,385.9L548.9,386.1L548.9,386.2L549,386.4L549,386.5L549,386.7L549.1,386.8L549.1,387L549.1,387.1L549.2,387.3L549.2,387.4L549.3,387.6L549.4,387.7L549.4,387.9L549.5,388L549.6,388.2L549.7,388.4L549.8,388.5L549.9,388.7L550,388.8L550.1,389L550.2,389.1L550.3,389.3L550.4,389.4L550.6,389.6L550.7,389.7L550.8,389.9L551,390L551,390.1" fill="none" stroke="#8f9897" stroke-width="23.2"/>
<path d="M550,431.9L549.9,432.1L549.8,432.3L549.7,432.5L549.6,432.8L549.5,433L549.4,433.2L549.3,433.4L549.2,433.7L549.1,433.9L549,434.1L548.9,434.4L548.8,434.6L548.7,434.8L548.7,435.1L548.6,435.3L548.5,435.5L548.5,435.8L548.4,436L548.3,436.3L548.3,436.5L548.3,436.5" fill="none" stroke="#8f9897" stroke-width="23.2"/>
<path d="M509.3,475.6L509,475.7L508.5,475.8L507.9,475.9L507.4,476L506.8,476.1L506.3,476.2L505.7,476.3L505.1,476.4L504.5,476.5L504.4,476.5" fill="none" stroke="#8f9897" stroke-width="23.2"/>
<path d="M458,459.4L458,459.3L457.8,459L457.7,458.7L457.5,458.4L457.4,458L457.2,457.7L457.1,457.4L456.9,457.1L456.8,456.9L456.6,456.6L456.5,456.3L456.3,456L456.2,455.7L456,455.5L455.8,455.2L455.7,455L455.7,455" fill="none" stroke="#8f9897" stroke-width="23.2"/>
<path d="M427.5,374.5L427.5,408.5L414.2,405.8Z" fill="#2a2584" stroke="#3a2a80" stroke-width="0.35"/>
<path d="M427.5,374.5L414.2,405.8L403,398.1Z" fill="#5f259b" stroke="#3a2a80" stroke-width="0.35"/>
<path d="M427.5,374.5L403,398.1L395.7,386.5Z" fill="#45a02f" stroke="#3a2a80" stroke-width="0.35"/>
<path d="M427.5,374.5L395.7,386.5L393.5,373.1Z" fill="#5f259b" stroke="#3a2a80" stroke-width="0.35"/>
<path d="M427.5,374.5L393.5,373.1L396.8,359.9Z" fill="#45a02f" stroke="#3a2a80" stroke-width="0.35"/>
<path d="M427.5,374.5L396.8,359.9L405,349Z" fill="#5f259b" stroke="#3a2a80" stroke-width="0.35"/>
<path d="M427.5,374.5L405,349L416.8,342.2Z" fill="#45a02f" stroke="#3a2a80" stroke-width="0.35"/>
<path d="M427.5,374.5L416.8,342.2L430.4,340.6Z" fill="#5f259b" stroke="#3a2a80" stroke-width="0.35"/>
<path d="M427.5,374.5L430.4,340.6L443.4,344.5Z" fill="#2a2584" stroke="#3a2a80" stroke-width="0.35"/>
<path d="M509,357.5L477.3,369.9L475.1,355.4Z" fill="#2a2584" stroke="#3a2a80" stroke-width="0.35"/>
<path d="M509,357.5L475.1,355.4L479.1,341.4Z" fill="#5f259b" stroke="#3a2a80" stroke-width="0.35"/>
<path d="M509,357.5L479.1,341.4L488.7,330.3Z" fill="#45a02f" stroke="#3a2a80" stroke-width="0.35"/>
<path d="M509,357.5L488.7,330.3L502,324.2Z" fill="#5f259b" stroke="#3a2a80" stroke-width="0.35"/>
<path d="M509,357.5L502,324.2L516.7,324.4Z" fill="#45a02f" stroke="#3a2a80" stroke-width="0.35"/>
<path d="M509,357.5L516.7,324.4L529.9,330.7Z" fill="#5f259b" stroke="#3a2a80" stroke-width="0.35"/>
<path d="M509,357.5L529.9,330.7L539.2,342Z" fill="#45a02f" stroke="#3a2a80" stroke-width="0.35"/>
<path d="M509,357.5L539.2,342L543,356.1Z" fill="#5f259b" stroke="#3a2a80" stroke-width="0.35"/>
<path d="M509,357.5L543,356.1L540.4,370.6Z" fill="#2a2584" stroke="#3a2a80" stroke-width="0.35"/>
<path d="M556.3,361L526.4,344.8L535.1,334.4Z" fill="#2a2584" stroke="#3a2a80" stroke-width="0.35"/>
<path d="M556.3,361L535.1,334.4L547.3,328.2Z" fill="#5f259b" stroke="#3a2a80" stroke-width="0.35"/>
<path d="M556.3,361L547.3,328.2L560.9,327.3Z" fill="#45a02f" stroke="#3a2a80" stroke-width="0.35"/>
<path d="M556.3,361L560.9,327.3L573.7,331.8Z" fill="#5f259b" stroke="#3a2a80" stroke-width="0.35"/>
<path d="M556.3,361L573.7,331.8L583.8,341Z" fill="#45a02f" stroke="#3a2a80" stroke-width="0.35"/>
<path d="M556.3,361L583.8,341L589.4,353.4Z" fill="#5f259b" stroke="#3a2a80" stroke-width="0.35"/>
<path d="M556.3,361L589.4,353.4L589.8,367Z" fill="#45a02f" stroke="#3a2a80" stroke-width="0.35"/>
<path d="M556.3,361L589.8,367L584.7,379.7Z" fill="#5f259b" stroke="#3a2a80" stroke-width="0.35"/>
<path d="M556.3,361L584.7,379.7L575.1,389.3Z" fill="#2a2584" stroke="#3a2a80" stroke-width="0.35"/>
<path d="M578,407.3L567.2,375.1L580.7,373.4Z" fill="#2a2584" stroke="#3a2a80" stroke-width="0.35"/>
<path d="M578,407.3L580.7,373.4L593.8,377.2Z" fill="#5f259b" stroke="#3a2a80" stroke-width="0.35"/>
<path d="M578,407.3L593.8,377.2L604.4,385.8Z" fill="#45a02f" stroke="#3a2a80" stroke-width="0.35"/>
<path d="M578,407.3L604.4,385.8L610.7,397.9Z" fill="#5f259b" stroke="#3a2a80" stroke-width="0.35"/>
<path d="M578,407.3L610.7,397.9L611.7,411.5Z" fill="#45a02f" stroke="#3a2a80" stroke-width="0.35"/>
<path d="M578,407.3L611.7,411.5L607.4,424.4Z" fill="#5f259b" stroke="#3a2a80" stroke-width="0.35"/>
<path d="M578,407.3L607.4,424.4L598.3,434.6Z" fill="#45a02f" stroke="#3a2a80" stroke-width="0.35"/>
<path d="M578,407.3L598.3,434.6L586,440.3Z" fill="#5f259b" stroke="#3a2a80" stroke-width="0.35"/>
<path d="M578,407.3L586,440.3L572.4,440.8Z" fill="#2a2584" stroke="#3a2a80" stroke-width="0.35"/>
<path d="M550,469.5L545.8,435.8L559.4,436.8Z" fill="#2a2584" stroke="#3a2a80" stroke-width="0.35"/>
<path d="M550,469.5L559.4,436.8L571.5,443.1Z" fill="#5f259b" stroke="#3a2a80" stroke-width="0.35"/>
<path d="M550,469.5L571.5,443.1L580.1,453.7Z" fill="#45a02f" stroke="#3a2a80" stroke-width="0.35"/>
<path d="M550,469.5L580.1,453.7L583.9,466.8Z" fill="#5f259b" stroke="#3a2a80" stroke-width="0.35"/>
<path d="M550,469.5L583.9,466.8L582.2,480.3Z" fill="#45a02f" stroke="#3a2a80" stroke-width="0.35"/>
<path d="M550,469.5L582.2,480.3L575.4,492.1Z" fill="#5f259b" stroke="#3a2a80" stroke-width="0.35"/>
<path d="M550,469.5L575.4,492.1L564.5,500.2Z" fill="#45a02f" stroke="#3a2a80" stroke-width="0.35"/>
<path d="M550,469.5L564.5,500.2L551.3,503.5Z" fill="#5f259b" stroke="#3a2a80" stroke-width="0.35"/>
<path d="M550,469.5L551.3,503.5L537.8,501.3Z" fill="#2a2584" stroke="#3a2a80" stroke-width="0.35"/>
<path d="M466,480.5L499.8,476.9L498.5,490.5Z" fill="#2a2584" stroke="#3a2a80" stroke-width="0.35"/>
<path d="M466,480.5L498.5,490.5L492,502.4Z" fill="#5f259b" stroke="#3a2a80" stroke-width="0.35"/>
<path d="M466,480.5L492,502.4L481.3,510.9Z" fill="#45a02f" stroke="#3a2a80" stroke-width="0.35"/>
<path d="M466,480.5L481.3,510.9L468.1,514.4Z" fill="#5f259b" stroke="#3a2a80" stroke-width="0.35"/>
<path d="M466,480.5L468.1,514.4L454.6,512.5Z" fill="#45a02f" stroke="#3a2a80" stroke-width="0.35"/>
<path d="M466,480.5L454.6,512.5L443,505.5Z" fill="#5f259b" stroke="#3a2a80" stroke-width="0.35"/>
<path d="M466,480.5L443,505.5L435,494.5Z" fill="#45a02f" stroke="#3a2a80" stroke-width="0.35"/>
<path d="M466,480.5L435,494.5L432,481.2Z" fill="#5f259b" stroke="#3a2a80" stroke-width="0.35"/>
<path d="M466,480.5L432,481.2L434.5,467.8Z" fill="#2a2584" stroke="#3a2a80" stroke-width="0.35"/>
<path d="M427.5,438.5L442.8,468.8L429.7,472.4Z" fill="#2a2584" stroke="#3a2a80" stroke-width="0.35"/>
<path d="M427.5,438.5L429.7,472.4L416.2,470.6Z" fill="#5f259b" stroke="#3a2a80" stroke-width="0.35"/>
<path d="M427.5,438.5L416.2,470.6L404.5,463.6Z" fill="#45a02f" stroke="#3a2a80" stroke-width="0.35"/>
<path d="M427.5,438.5L404.5,463.6L396.5,452.5Z" fill="#5f259b" stroke="#3a2a80" stroke-width="0.35"/>
<path d="M427.5,438.5L396.5,452.5L393.5,439.3Z" fill="#45a02f" stroke="#3a2a80" stroke-width="0.35"/>
<path d="M427.5,438.5L393.5,439.3L395.9,425.9Z" fill="#5f259b" stroke="#3a2a80" stroke-width="0.35"/>
<path d="M427.5,438.5L395.9,425.9L403.4,414.5Z" fill="#45a02f" stroke="#3a2a80" stroke-width="0.35"/>
<path d="M427.5,438.5L403.4,414.5L414.8,407Z" fill="#5f259b" stroke="#3a2a80" stroke-width="0.35"/>
<path d="M427.5,438.5L414.8,407L428.2,404.5Z" fill="#2a2584" stroke="#3a2a80" stroke-width="0.35"/>
</g>
<path d="M427.5,438.6L428.2,439.7L429.5,440.3L434.2,439.3L438.3,438.9L443.6,439.2L448.2,440.1L451.9,441.2L454.4,442.5L456.8,444.1L459.5,446.7L462,449.8L464.3,453.7L466.1,457.7L467.2,461.4L467.7,465.7L467.5,470L466.8,473.3L465,478.4L465.4,479.6L466.5,480.5L473.2,481.5L474.4,481.2L477.8,477.5L480.8,474.9L482.3,472.2L483.7,470.7L485.5,469.3L487.4,468.5L490.2,467.8L495.2,467.2L515.1,463.7L522.3,462.7L525,462.7L528.6,463.1L532,463.9L534.9,465.1L538.3,466.9L541.3,469L542.8,470.5L544.1,472.9L544.8,473.5L546.9,474.3L548,474.3L549,473.8L549.6,472.7L550.6,463.7L550.2,462.7L546.9,459.2L544.2,455.4L542.4,451.8L541.1,447.8L540.2,443.1L539.9,438.5L540.4,434.5L541.7,430.5L544,426.2L546.9,422.1L549.9,419.3L553.5,416.9L557.8,415L561.5,413.8L566.5,412.9L576.3,411.7L577.3,411.3L578,410.4L578.2,409.6L577.7,404.2L577,402.9L575.8,402.4L568.3,402.9L563.7,402.8L558.2,402.1L553.8,401L550.2,399.4L547.1,397.4L544.5,394.9L542.5,392L541.2,388.9L540.8,385.8L541.2,382.4L542.3,379.2L544.1,376.2L546.8,372.9L551.1,368.4L556.2,364L556.8,363.1L556.8,362L556.4,361.2L553.8,358.8L553,358.4L552,358.4L551.2,358.8L542.8,366.2L537.6,369.8L534.2,371.4L532.4,371.9L530.6,372L528.1,371.7L526.2,371L524.5,369.9L523,368.6L520.8,365.6L518.9,361.8L517.7,358.7L516.8,357.8L515.8,357.6L505.6,357.5L504.7,358L504.1,358.6L502.8,362.7L500.7,365.7L498.9,367.1L495.7,368.6L492.5,371L490.6,371.7L486.8,372.4L480.5,374.7L476.6,375.7L469.2,377.2L463.1,377.9L459.5,377.8L456.2,377.4L451.9,376.3L447.7,374.8L444.6,373.3L442.8,372L441.3,370.4L439.9,367.8L439.3,367.2L433.7,364.7L432.4,364.4L431.2,364.5L430.1,365.1L429.6,366.1L427,376.5L427.1,377.3L427.4,378.1L429.6,379.7L434.3,382.5L449.8,390.2L453.5,392.3L456.3,394.4L459.5,397.8L462.9,402.8L464.3,406.5L464.6,409.8L463.9,413.6L462,417.4L459.3,420.6L456,423.1L453.6,424.3L450.7,425.3L446.2,426.4L437.9,428L431.3,430L427.2,431.4L426.6,432.2L426.4,433.3Z" fill="#a3a9dc" stroke="#1d1b3a" stroke-width="0.9" stroke-linejoin="round"/>
<path d="M504.6,362 C506,358 507.3,354.5 509,350.5 C510.7,354.5 512.3,358 514,362Z" fill="#a3a9dc"/>
<path d="M505,359.5 C506.2,356.5 507.5,353.5 509,350.5 C510.5,353.5 512,356.5 513.4,359.5" fill="none" stroke="#1d1b3a" stroke-width="0.8" stroke-linejoin="round"/>
<path d="M415,371.4C415.1,369.6 415.5,367.3 416.3,365.5C417.1,363.7 418.1,362.1 419.7,360.8C421.3,359.5 423.7,358.2 426,357.5C428.3,356.8 430.8,356.1 433.3,356.3C435.8,356.6 438.2,357.7 441,359C443.8,360.3 447.3,362.8 450,364C452.7,365.2 454.8,366 457,366.5C459.2,367 460.5,367.2 463.5,367C466.5,366.8 471.5,365.9 475,365C478.5,364.1 481.9,362.5 484.7,361.8C487.4,361.1 489.7,361.4 491.5,361C493.3,360.6 494.4,361 495.3,359.5C496.2,358 496.3,354.8 496.8,352C497.3,349.2 497.6,346.2 498.5,343C499.4,339.8 500.8,335.6 502.5,333C504.2,330.4 506.8,328.4 508.7,327.6C510.6,326.9 512.5,327.7 514,328.5C515.5,329.3 516.6,330.6 517.8,332.5C519,334.4 520,337 521,340C522,343 523,347.2 523.9,350.3C524.8,353.4 525.3,356.2 526.3,358.5C527.3,360.8 528.5,363.3 530,363.8C531.5,364.3 533.2,363 535.5,361.5C537.8,360 540.9,357.1 543.5,354.8C546.1,352.6 548.5,350 551,348C553.5,346 556.2,343.9 558.7,342.7C561.2,341.5 564,340.7 566,341C568,341.3 569.4,342.8 570.5,344.3C571.6,345.8 572.1,348.1 572.5,350C572.9,351.9 572.9,354.1 572.6,356C572.3,357.9 571.7,359.8 570.8,361.5C569.9,363.2 568.5,364.6 567,366C565.5,367.4 563.5,368.5 561.7,370C559.9,371.5 557.8,373.2 556,375C554.2,376.8 552.2,378.9 551,380.5C549.8,382.1 549.2,383.2 549,384.5C548.8,385.8 548.9,387 549.6,388.2C550.3,389.4 551.5,390.7 553,391.7C554.5,392.7 556.4,393.5 558.7,394C561,394.5 564.3,394.8 567,394.8C569.7,394.9 572.3,394.3 575,394.3C577.7,394.3 580.5,394.2 583.2,394.6C585.9,395.1 588.9,395.9 591,397C593.1,398.1 594.8,399.6 596,401C597.2,402.4 598,404.1 598.3,405.7C598.5,407.3 598.2,409 597.5,410.5C596.8,412 595.7,413.6 593.8,414.8C591.9,416.1 589,417.1 586,418C583,418.9 578.8,419.5 575.6,420C572.4,420.5 569.5,420.6 567,421C564.5,421.4 562.6,421.8 560.5,422.6C558.4,423.4 556.2,424.5 554.5,426C552.8,427.5 551.3,429.6 550.3,431.4C549.2,433.2 548.5,435 548.2,437C547.9,439 548,441.3 548.4,443.5C548.8,445.7 549.5,448 550.5,450C551.5,452 552.9,453.9 554.5,455.6C556.1,457.3 558.1,458.5 560,460C561.9,461.5 564.4,463.2 566,464.5C567.6,465.8 568.7,466.8 569.5,468C570.3,469.2 570.7,470.6 570.6,472C570.5,473.4 570,475.1 569,476.5C568,477.9 566.2,479.5 564.7,480.5C563.2,481.5 561.8,482.2 560,482.7C558.2,483.2 556.2,483.6 554,483.6C551.8,483.6 549.2,483.3 547,482.8C544.8,482.3 542.5,481.4 540.5,480.5C538.5,479.6 536.8,478.5 535,477.5C533.2,476.5 531.7,475.4 530,474.7C528.3,474 526.5,473.7 525,473.5C523.5,473.3 523.3,473.4 520.8,473.7C518.3,474 513.9,474.8 510,475.5C506.1,476.2 500.6,477.2 497.3,477.8C494.1,478.4 492.5,478.2 490.5,478.8C488.5,479.4 487,480.4 485.5,481.5C484,482.6 482.6,484 481.4,485.6C480.1,487.2 479.2,489.3 478,491C476.8,492.7 475.4,494.7 473.9,496C472.4,497.3 470.8,498.4 469,499C467.2,499.6 465.3,500.2 463.3,499.8C461.3,499.4 458.7,498.2 457,496.7C455.3,495.1 453.8,492.4 453,490.5C452.2,488.6 452.3,486.7 452.5,485C452.7,483.3 453.4,482.2 454.2,480.5C455,478.8 456.6,477 457.5,475C458.4,473 459.2,470.9 459.5,468.7C459.8,466.5 459.6,464.3 459,462C458.4,459.7 456.9,456.9 455.7,455C454.5,453.1 453.2,451.8 452,450.7C450.8,449.6 450.1,449.2 448.4,448.6C446.7,448 444.3,447.4 442,447.2C439.7,447 437.3,446.9 434.8,447.4C432.3,447.9 429.5,449.3 427,450.2C424.5,451.1 421.9,452.4 419.7,453C417.4,453.6 415.3,453.7 413.5,453.6C411.7,453.5 410.3,453 409,452.2C407.7,451.4 406.4,450 405.5,448.6C404.6,447.2 403.9,445.5 403.8,443.9C403.7,442.3 404.2,440.5 404.8,439C405.4,437.5 406.2,436.4 407.6,434.8C409,433.2 411,431 413,429.5C415,428 417.2,426.9 419.7,425.7C422.2,424.5 425,423.5 428,422.5C431,421.5 435,420.4 437.8,419.7C440.6,419 442.7,418.9 445,418.4C447.3,417.8 449.7,417.2 451.4,416.4C453.1,415.5 454.1,414.5 455,413.3C455.9,412.1 456.6,410.4 456.5,409C456.4,407.6 455.4,406.1 454.5,404.7C453.6,403.3 452.5,401.8 451,400.5C449.5,399.2 447.7,398.2 445.4,397C443.1,395.8 439.6,394.3 437,393C434.4,391.7 432.3,390.7 430,389.4C427.7,388.1 425,386.5 423,385C421,383.5 419.2,382 418,380.5C416.8,379 416.1,377.5 415.6,376C415.1,374.5 414.9,373.1 415,371.4Z" fill="none" stroke="#1d1b3a" stroke-width="1.1"/>
<pattern id="cob" width="9" height="8" patternUnits="userSpaceOnUse" patternTransform="rotate(12)"><rect width="9" height="8" fill="#e5dabd"/><circle cx="2.4" cy="2.2" r="1.9" fill="#dccfae" stroke="#ece3cb" stroke-width="0.5"/><circle cx="6.9" cy="6.1" r="1.9" fill="#dccfae" stroke="#ece3cb" stroke-width="0.5"/><circle cx="6.8" cy="1.9" r="1.2" fill="#dfd3b3"/><circle cx="2.3" cy="6.2" r="1.2" fill="#dfd3b3"/></pattern>
<path d="M458.3,410C458.4,405.7 459,399.4 459.5,395C460,390.6 460.6,386.2 461.5,383.5C462.4,380.8 463.6,379.5 465,378.5C466.4,377.5 468.5,378.2 470,377.5C471.5,376.8 472.1,375.1 474,374.5C475.9,373.9 479.4,374 481.7,373.6C484,373.2 485.8,372.4 488,372C490.2,371.6 492.5,371.6 495,371.3C497.5,371 500.5,370.4 503,370.3C505.5,370.2 507.7,370.9 510,371C512.3,371.1 515,370.8 517,371.2C519,371.6 520.3,372.8 522,373.5C523.7,374.2 525.3,374.2 527,375.2C528.7,376.2 530.5,378.2 532,379.5C533.5,380.8 535.2,381.6 536.3,383C537.4,384.4 538,385.8 538.5,388C539,390.2 538.9,393.5 539.5,396C540.1,398.5 541.7,401 542.3,403C542.9,405 543.4,406.2 543.3,408C543.2,409.8 542.2,411.9 541.5,414C540.8,416.1 540,418.9 539.2,420.7C538.4,422.5 537.1,423.4 536.5,425C535.9,426.6 535.8,428.3 535.5,430C535.2,431.7 535.4,433.2 535,435C534.6,436.8 534,438.9 533,441C532,443.1 530.3,445.6 529,447.8C527.7,450.1 526.8,453 525,454.5C523.2,456 520.5,456 518,457C515.5,458 512.5,459.8 510,460.5C507.5,461.2 505.4,460.5 503,461C500.6,461.5 498.2,463 495.5,463.3C492.8,463.6 489.6,462.6 487,462.6C484.4,462.6 482.3,463.7 480,463.3C477.7,462.9 475.2,461.2 473,460C470.8,458.8 468.2,457.6 466.6,455.8C465,454 464.4,451.5 463.5,449C462.6,446.5 461.7,443.8 461,441C460.3,438.2 459.9,435.3 459.5,432C459.1,428.7 459,424.7 458.8,421C458.6,417.3 458.2,414.3 458.3,410Z" fill="url(#cob)" stroke="#e9e0c9" stroke-width="0.8"/>
<text class="s b" x="467.6" y="405.8">Organoid</text>
<text class="s" x="467.6" y="421.1">R-Spondin</text>
<text class="s" x="467.6" y="436.9">dependent</text>
</svg>
</body>
</html>
